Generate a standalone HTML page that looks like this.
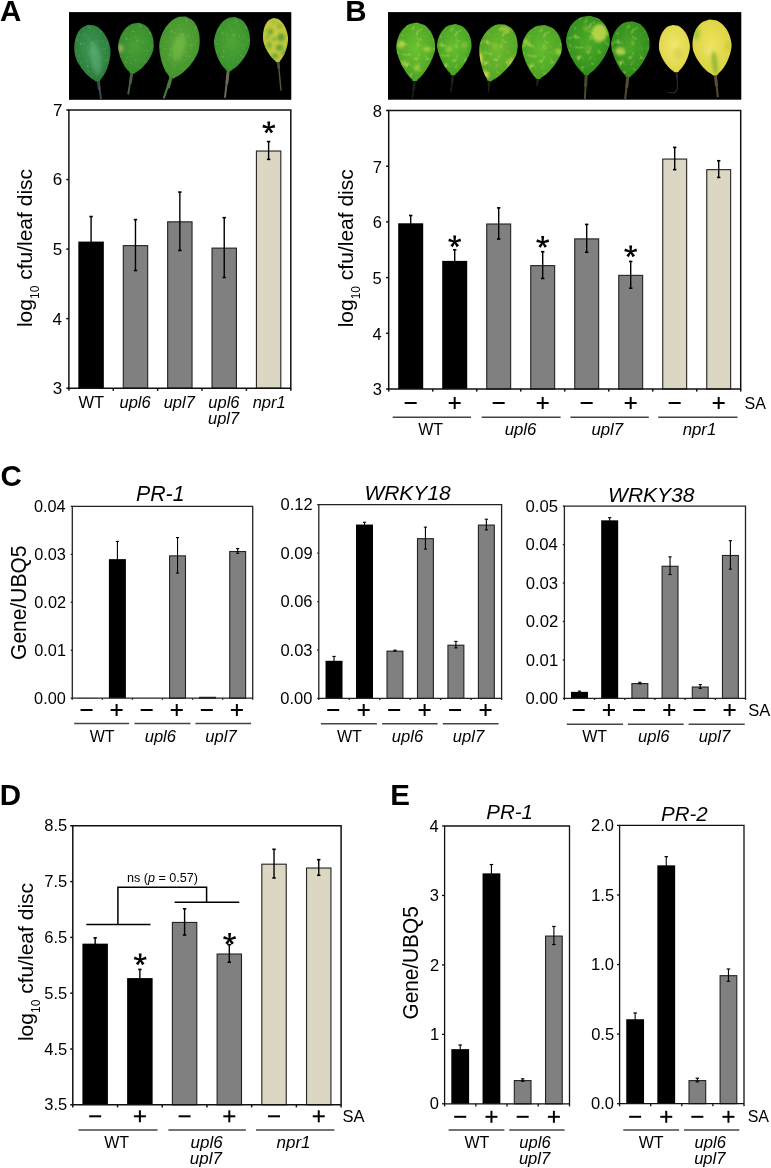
<!DOCTYPE html>
<html><head><meta charset="utf-8"><style>
html,body{margin:0;padding:0;background:#fff;}
svg{display:block;will-change:transform;font-family:"Liberation Sans", sans-serif;}
</style></head><body>
<svg width="771" height="1168" viewBox="0 0 771 1168">
<rect width="771" height="1168" fill="#fff"/>
<defs><radialGradient id="lf1g" cx="0.5" cy="0.45" r="0.6"><stop offset="0" stop-color="#40985a"/><stop offset="1" stop-color="#287a34"/></radialGradient><radialGradient id="lf2g" cx="0.5" cy="0.45" r="0.6"><stop offset="0" stop-color="#4aa236"/><stop offset="1" stop-color="#32882a"/></radialGradient><radialGradient id="lf3g" cx="0.5" cy="0.45" r="0.6"><stop offset="0" stop-color="#5cab3a"/><stop offset="1" stop-color="#40902c"/></radialGradient><radialGradient id="lf4g" cx="0.5" cy="0.45" r="0.6"><stop offset="0" stop-color="#4ea636"/><stop offset="1" stop-color="#368e2c"/></radialGradient><radialGradient id="lf5g" cx="0.5" cy="0.45" r="0.6"><stop offset="0" stop-color="#cfcf42"/><stop offset="1" stop-color="#b8c23a"/></radialGradient><radialGradient id="lf6g" cx="0.5" cy="0.45" r="0.6"><stop offset="0" stop-color="#6cc230"/><stop offset="1" stop-color="#48a024"/></radialGradient><radialGradient id="lf7g" cx="0.5" cy="0.45" r="0.6"><stop offset="0" stop-color="#66be2e"/><stop offset="1" stop-color="#44a024"/></radialGradient><radialGradient id="lf8g" cx="0.5" cy="0.45" r="0.6"><stop offset="0" stop-color="#6cbc2e"/><stop offset="1" stop-color="#50a226"/></radialGradient><radialGradient id="lf9g" cx="0.5" cy="0.45" r="0.6"><stop offset="0" stop-color="#66bc2e"/><stop offset="1" stop-color="#46a024"/></radialGradient><radialGradient id="lf10g" cx="0.5" cy="0.45" r="0.6"><stop offset="0" stop-color="#4cac28"/><stop offset="1" stop-color="#2e8a1c"/></radialGradient><radialGradient id="lf11g" cx="0.5" cy="0.45" r="0.6"><stop offset="0" stop-color="#4aa828"/><stop offset="1" stop-color="#2e881c"/></radialGradient><radialGradient id="lf12g" cx="0.5" cy="0.45" r="0.6"><stop offset="0" stop-color="#f0e86a"/><stop offset="1" stop-color="#dcd444"/></radialGradient><radialGradient id="lf13g" cx="0.5" cy="0.45" r="0.6"><stop offset="0" stop-color="#eee45c"/><stop offset="1" stop-color="#d8d040"/></radialGradient></defs>
<text x="0.07" y="21.3" font-size="29.5" font-style="normal" font-weight="bold" fill="#000">A</text>
<text x="345.33" y="21.3" font-size="29.5" font-style="normal" font-weight="bold" fill="#000">B</text>
<text x="0.59" y="486.2" font-size="29.5" font-style="normal" font-weight="bold" fill="#000">C</text>
<text x="-0.37" y="804.6" font-size="29.5" font-style="normal" font-weight="bold" fill="#000">D</text>
<text x="390.23" y="804.6" font-size="29.5" font-style="normal" font-weight="bold" fill="#000">E</text>
<rect x="69" y="12.1" width="222.3" height="87.7" fill="#000"/>
<rect x="388" y="12.1" width="353.3" height="87.6" fill="#000"/>
<defs><filter id="blur1" x="-50%" y="-50%" width="200%" height="200%"><feGaussianBlur stdDeviation="1.6"/></filter><filter id="speckY" x="0" y="0" width="1" height="1"><feTurbulence type="fractalNoise" baseFrequency="0.2" numOctaves="3" seed="7"/><feColorMatrix type="matrix" values="0 0 0 0 0.76  0 0 0 0 0.80  0 0 0 0 0.14  2.0 0 0 0 -1.12"/></filter><filter id="speckL" x="0" y="0" width="1" height="1"><feTurbulence type="fractalNoise" baseFrequency="0.35" numOctaves="2" seed="3"/><feColorMatrix type="matrix" values="0 0 0 0 0.55  0 0 0 0 0.75  0 0 0 0 0.30  1.3 0 0 0 -0.78"/></filter><filter id="speckG" x="0" y="0" width="1" height="1"><feTurbulence type="fractalNoise" baseFrequency="0.25" numOctaves="2" seed="11"/><feColorMatrix type="matrix" values="0 0 0 0 0.36  0 0 0 0 0.62  0 0 0 0 0.18  4 0 0 0 -1.9"/></filter></defs>
<path d="M97.9 78.2 L101 98.3" fill="none" stroke="#3c4a48" stroke-width="2" stroke-linecap="round" stroke-linejoin="round"/><path d="M97.9 78.2 L99.3 88.9" fill="none" stroke="#3c4a48" stroke-width="3" stroke-linecap="round"/><g transform="translate(87.8 24.8) rotate(-10.15)"><clipPath id="lf1"><path d="M0 0 6.03 1.59 8.41 3.18 10.14 4.77 11.52 6.37 12.66 7.96 13.64 9.55 14.47 11.14 15.18 12.73 15.8 14.32 16.32 15.92 16.77 17.51 17.14 19.1 17.44 20.69 17.67 22.28 17.84 23.87 17.95 25.47 18 27.06 17.91 28.65 17.66 30.24 17.33 31.83 16.92 33.42 16.45 35.01 15.91 36.61 15.32 38.2 14.66 39.79 13.95 41.38 13.17 42.97 12.33 44.56 11.41 46.16 10.41 47.75 9.32 49.34 8.12 50.93 6.77 52.52 5.21 54.11 3.32 55.71 2.2 57.3 L-2.2 57.3 -3.32 55.71 -5.21 54.11 -6.77 52.52 -8.12 50.93 -9.32 49.34 -10.41 47.75 -11.41 46.16 -12.33 44.56 -13.17 42.97 -13.95 41.38 -14.66 39.79 -15.32 38.2 -15.91 36.61 -16.45 35.01 -16.92 33.42 -17.33 31.83 -17.66 30.24 -17.91 28.65 -18 27.06 -17.95 25.47 -17.84 23.87 -17.67 22.28 -17.44 20.69 -17.14 19.1 -16.77 17.51 -16.32 15.92 -15.8 14.32 -15.18 12.73 -14.47 11.14 -13.64 9.55 -12.66 7.96 -11.52 6.37 -10.14 4.77 -8.41 3.18 -6.03 1.59 -0 0Z"/></clipPath><path d="M0 0 6.03 1.59 8.41 3.18 10.14 4.77 11.52 6.37 12.66 7.96 13.64 9.55 14.47 11.14 15.18 12.73 15.8 14.32 16.32 15.92 16.77 17.51 17.14 19.1 17.44 20.69 17.67 22.28 17.84 23.87 17.95 25.47 18 27.06 17.91 28.65 17.66 30.24 17.33 31.83 16.92 33.42 16.45 35.01 15.91 36.61 15.32 38.2 14.66 39.79 13.95 41.38 13.17 42.97 12.33 44.56 11.41 46.16 10.41 47.75 9.32 49.34 8.12 50.93 6.77 52.52 5.21 54.11 3.32 55.71 2.2 57.3 L-2.2 57.3 -3.32 55.71 -5.21 54.11 -6.77 52.52 -8.12 50.93 -9.32 49.34 -10.41 47.75 -11.41 46.16 -12.33 44.56 -13.17 42.97 -13.95 41.38 -14.66 39.79 -15.32 38.2 -15.91 36.61 -16.45 35.01 -16.92 33.42 -17.33 31.83 -17.66 30.24 -17.91 28.65 -18 27.06 -17.95 25.47 -17.84 23.87 -17.67 22.28 -17.44 20.69 -17.14 19.1 -16.77 17.51 -16.32 15.92 -15.8 14.32 -15.18 12.73 -14.47 11.14 -13.64 9.55 -12.66 7.96 -11.52 6.37 -10.14 4.77 -8.41 3.18 -6.03 1.59 -0 0Z" fill="url(#lf1g)"/><g clip-path="url(#lf1)"><rect x="-18" y="0" width="36" height="57.3" fill="#fff" filter="url(#speckL)"/></g><g clip-path="url(#lf1)"><g filter="url(#blur1)"><ellipse cx="1.8" cy="34.38" rx="5" ry="16" fill="#8fd8b0" opacity="0.25"/></g></g></g>
<path d="M132.1 70.4 L128.3 93.6" fill="none" stroke="#4a5a44" stroke-width="2" stroke-linecap="round" stroke-linejoin="round"/><path d="M132.1 70.4 L130.39 82.49" fill="none" stroke="#4a5a44" stroke-width="3" stroke-linecap="round"/><g transform="translate(139.2 22.8) rotate(7.99)"><clipPath id="lf2"><path d="M0 0 5.95 1.42 8.29 2.84 10 4.26 11.36 5.68 12.49 7.1 13.45 8.52 14.27 9.94 14.97 11.35 15.58 12.77 16.1 14.19 16.54 15.61 16.9 17.03 17.2 18.45 17.43 19.87 17.59 21.29 17.7 22.71 17.75 24.13 17.66 25.55 17.42 26.97 17.09 28.39 16.69 29.81 16.22 31.23 15.69 32.64 15.1 34.06 14.46 35.48 13.75 36.9 12.99 38.32 12.15 39.74 11.25 41.16 10.27 42.58 9.19 44 8 45.42 6.67 46.84 5.14 48.26 3.27 49.68 2.2 51.1 L-2.2 51.1 -3.27 49.68 -5.14 48.26 -6.67 46.84 -8 45.42 -9.19 44 -10.27 42.58 -11.25 41.16 -12.15 39.74 -12.99 38.32 -13.75 36.9 -14.46 35.48 -15.1 34.06 -15.69 32.64 -16.22 31.23 -16.69 29.81 -17.09 28.39 -17.42 26.97 -17.66 25.55 -17.75 24.13 -17.7 22.71 -17.59 21.29 -17.43 19.87 -17.2 18.45 -16.9 17.03 -16.54 15.61 -16.1 14.19 -15.58 12.77 -14.97 11.35 -14.27 9.94 -13.45 8.52 -12.49 7.1 -11.36 5.68 -10 4.26 -8.29 2.84 -5.95 1.42 -0 0Z"/></clipPath><path d="M0 0 5.95 1.42 8.29 2.84 10 4.26 11.36 5.68 12.49 7.1 13.45 8.52 14.27 9.94 14.97 11.35 15.58 12.77 16.1 14.19 16.54 15.61 16.9 17.03 17.2 18.45 17.43 19.87 17.59 21.29 17.7 22.71 17.75 24.13 17.66 25.55 17.42 26.97 17.09 28.39 16.69 29.81 16.22 31.23 15.69 32.64 15.1 34.06 14.46 35.48 13.75 36.9 12.99 38.32 12.15 39.74 11.25 41.16 10.27 42.58 9.19 44 8 45.42 6.67 46.84 5.14 48.26 3.27 49.68 2.2 51.1 L-2.2 51.1 -3.27 49.68 -5.14 48.26 -6.67 46.84 -8 45.42 -9.19 44 -10.27 42.58 -11.25 41.16 -12.15 39.74 -12.99 38.32 -13.75 36.9 -14.46 35.48 -15.1 34.06 -15.69 32.64 -16.22 31.23 -16.69 29.81 -17.09 28.39 -17.42 26.97 -17.66 25.55 -17.75 24.13 -17.7 22.71 -17.59 21.29 -17.43 19.87 -17.2 18.45 -16.9 17.03 -16.54 15.61 -16.1 14.19 -15.58 12.77 -14.97 11.35 -14.27 9.94 -13.45 8.52 -12.49 7.1 -11.36 5.68 -10 4.26 -8.29 2.84 -5.95 1.42 -0 0Z" fill="url(#lf2g)"/><g clip-path="url(#lf2)"><rect x="-17.75" y="0" width="35.5" height="51.1" fill="#fff" filter="url(#speckL)"/></g><g clip-path="url(#lf2)"><g filter="url(#blur1)"><ellipse cx="-14.91" cy="28.1" rx="3" ry="4" fill="#c0b070" opacity="0.7"/></g></g></g>
<path d="M171.8 75 L164 97.5" fill="none" stroke="#4a7a3c" stroke-width="2.2" stroke-linecap="round" stroke-linejoin="round"/><path d="M171.8 75 L168.29 86.78" fill="none" stroke="#4a7a3c" stroke-width="3.4" stroke-linecap="round"/><g transform="translate(185.8 16.6) rotate(12.84)"><clipPath id="lf3"><path d="M0 0 6.7 1.75 9.34 3.5 11.26 5.25 12.8 7 14.07 8.75 15.15 10.5 16.08 12.25 16.87 13.99 17.55 15.74 18.14 17.49 18.63 19.24 19.04 20.99 19.38 22.74 19.64 24.49 19.83 26.24 19.95 27.99 20 29.74 19.9 31.49 19.63 33.24 19.25 34.99 18.8 36.74 18.27 38.49 17.68 40.23 17.02 41.98 16.29 43.73 15.5 45.48 14.63 47.23 13.7 48.98 12.68 50.73 11.57 52.48 10.36 54.23 9.02 55.98 7.52 57.73 5.79 59.48 3.68 61.23 2.2 62.98 L-2.2 62.98 -3.68 61.23 -5.79 59.48 -7.52 57.73 -9.02 55.98 -10.36 54.23 -11.57 52.48 -12.68 50.73 -13.7 48.98 -14.63 47.23 -15.5 45.48 -16.29 43.73 -17.02 41.98 -17.68 40.23 -18.27 38.49 -18.8 36.74 -19.25 34.99 -19.63 33.24 -19.9 31.49 -20 29.74 -19.95 27.99 -19.83 26.24 -19.64 24.49 -19.38 22.74 -19.04 20.99 -18.63 19.24 -18.14 17.49 -17.55 15.74 -16.87 13.99 -16.08 12.25 -15.15 10.5 -14.07 8.75 -12.8 7 -11.26 5.25 -9.34 3.5 -6.7 1.75 -0 0Z"/></clipPath><path d="M0 0 6.7 1.75 9.34 3.5 11.26 5.25 12.8 7 14.07 8.75 15.15 10.5 16.08 12.25 16.87 13.99 17.55 15.74 18.14 17.49 18.63 19.24 19.04 20.99 19.38 22.74 19.64 24.49 19.83 26.24 19.95 27.99 20 29.74 19.9 31.49 19.63 33.24 19.25 34.99 18.8 36.74 18.27 38.49 17.68 40.23 17.02 41.98 16.29 43.73 15.5 45.48 14.63 47.23 13.7 48.98 12.68 50.73 11.57 52.48 10.36 54.23 9.02 55.98 7.52 57.73 5.79 59.48 3.68 61.23 2.2 62.98 L-2.2 62.98 -3.68 61.23 -5.79 59.48 -7.52 57.73 -9.02 55.98 -10.36 54.23 -11.57 52.48 -12.68 50.73 -13.7 48.98 -14.63 47.23 -15.5 45.48 -16.29 43.73 -17.02 41.98 -17.68 40.23 -18.27 38.49 -18.8 36.74 -19.25 34.99 -19.63 33.24 -19.9 31.49 -20 29.74 -19.95 27.99 -19.83 26.24 -19.64 24.49 -19.38 22.74 -19.04 20.99 -18.63 19.24 -18.14 17.49 -17.55 15.74 -16.87 13.99 -16.08 12.25 -15.15 10.5 -14.07 8.75 -12.8 7 -11.26 5.25 -9.34 3.5 -6.7 1.75 -0 0Z" fill="url(#lf3g)"/><g clip-path="url(#lf3)"><rect x="-20" y="0" width="40" height="62.98" fill="#fff" filter="url(#speckL)"/></g><g clip-path="url(#lf3)"><g filter="url(#blur1)"><ellipse cx="0" cy="31.49" rx="6" ry="14" fill="#90cc50" opacity="0.35"/></g></g></g>
<path d="M228.5 68 L225 97" fill="none" stroke="#6a6a52" stroke-width="2" stroke-linecap="round" stroke-linejoin="round"/><path d="M228.5 68 L226.93 82.7" fill="none" stroke="#6a6a52" stroke-width="3" stroke-linecap="round"/><g transform="translate(235 17) rotate(6.86)"><clipPath id="lf4"><path d="M0 0 6.03 1.51 8.41 3.02 10.14 4.53 11.52 6.04 12.66 7.55 13.64 9.06 14.47 10.58 15.18 12.09 15.8 13.6 16.32 15.11 16.77 16.62 17.14 18.13 17.44 19.64 17.67 21.15 17.84 22.66 17.95 24.17 18 25.68 17.91 27.19 17.66 28.71 17.33 30.22 16.92 31.73 16.45 33.24 15.91 34.75 15.32 36.26 14.66 37.77 13.95 39.28 13.17 40.79 12.33 42.3 11.41 43.81 10.41 45.32 9.32 46.84 8.12 48.35 6.77 49.86 5.21 51.37 3.32 52.88 2.2 54.39 L-2.2 54.39 -3.32 52.88 -5.21 51.37 -6.77 49.86 -8.12 48.35 -9.32 46.84 -10.41 45.32 -11.41 43.81 -12.33 42.3 -13.17 40.79 -13.95 39.28 -14.66 37.77 -15.32 36.26 -15.91 34.75 -16.45 33.24 -16.92 31.73 -17.33 30.22 -17.66 28.71 -17.91 27.19 -18 25.68 -17.95 24.17 -17.84 22.66 -17.67 21.15 -17.44 19.64 -17.14 18.13 -16.77 16.62 -16.32 15.11 -15.8 13.6 -15.18 12.09 -14.47 10.58 -13.64 9.06 -12.66 7.55 -11.52 6.04 -10.14 4.53 -8.41 3.02 -6.03 1.51 -0 0Z"/></clipPath><path d="M0 0 6.03 1.51 8.41 3.02 10.14 4.53 11.52 6.04 12.66 7.55 13.64 9.06 14.47 10.58 15.18 12.09 15.8 13.6 16.32 15.11 16.77 16.62 17.14 18.13 17.44 19.64 17.67 21.15 17.84 22.66 17.95 24.17 18 25.68 17.91 27.19 17.66 28.71 17.33 30.22 16.92 31.73 16.45 33.24 15.91 34.75 15.32 36.26 14.66 37.77 13.95 39.28 13.17 40.79 12.33 42.3 11.41 43.81 10.41 45.32 9.32 46.84 8.12 48.35 6.77 49.86 5.21 51.37 3.32 52.88 2.2 54.39 L-2.2 54.39 -3.32 52.88 -5.21 51.37 -6.77 49.86 -8.12 48.35 -9.32 46.84 -10.41 45.32 -11.41 43.81 -12.33 42.3 -13.17 40.79 -13.95 39.28 -14.66 37.77 -15.32 36.26 -15.91 34.75 -16.45 33.24 -16.92 31.73 -17.33 30.22 -17.66 28.71 -17.91 27.19 -18 25.68 -17.95 24.17 -17.84 22.66 -17.67 21.15 -17.44 19.64 -17.14 18.13 -16.77 16.62 -16.32 15.11 -15.8 13.6 -15.18 12.09 -14.47 10.58 -13.64 9.06 -12.66 7.55 -11.52 6.04 -10.14 4.53 -8.41 3.02 -6.03 1.51 -0 0Z" fill="url(#lf4g)"/><g clip-path="url(#lf4)"><rect x="-18" y="0" width="36" height="54.39" fill="#fff" filter="url(#speckL)"/></g></g>
<path d="M278 59 L279.5 75 L281 90" fill="none" stroke="#4a5a38" stroke-width="1.5" stroke-linecap="round" stroke-linejoin="round"/><path d="M278 59 L278.68 67.85" fill="none" stroke="#4a5a38" stroke-width="2.4" stroke-linecap="round"/><g transform="translate(273.4 18) rotate(-5.97)"><clipPath id="lf5"><path d="M0 0 4.19 1.23 5.84 2.46 7.04 3.69 8 4.92 8.79 6.14 9.47 7.37 10.05 8.6 10.54 9.83 10.97 11.06 11.34 12.29 11.65 13.52 11.9 14.75 12.11 15.98 12.27 17.2 12.39 18.43 12.47 19.66 12.5 20.89 12.44 22.12 12.27 23.35 12.03 24.58 11.75 25.81 11.42 27.04 11.05 28.26 10.64 29.49 10.18 30.72 9.69 31.95 9.15 33.18 8.56 34.41 7.92 35.64 7.23 36.87 6.47 38.1 5.64 39.32 4.7 40.55 3.62 41.78 2.3 43.01 2.2 44.24 L-2.2 44.24 -2.3 43.01 -3.62 41.78 -4.7 40.55 -5.64 39.32 -6.47 38.1 -7.23 36.87 -7.92 35.64 -8.56 34.41 -9.15 33.18 -9.69 31.95 -10.18 30.72 -10.64 29.49 -11.05 28.26 -11.42 27.04 -11.75 25.81 -12.03 24.58 -12.27 23.35 -12.44 22.12 -12.5 20.89 -12.47 19.66 -12.39 18.43 -12.27 17.2 -12.11 15.98 -11.9 14.75 -11.65 13.52 -11.34 12.29 -10.97 11.06 -10.54 9.83 -10.05 8.6 -9.47 7.37 -8.79 6.14 -8 4.92 -7.04 3.69 -5.84 2.46 -4.19 1.23 -0 0Z"/></clipPath><path d="M0 0 4.19 1.23 5.84 2.46 7.04 3.69 8 4.92 8.79 6.14 9.47 7.37 10.05 8.6 10.54 9.83 10.97 11.06 11.34 12.29 11.65 13.52 11.9 14.75 12.11 15.98 12.27 17.2 12.39 18.43 12.47 19.66 12.5 20.89 12.44 22.12 12.27 23.35 12.03 24.58 11.75 25.81 11.42 27.04 11.05 28.26 10.64 29.49 10.18 30.72 9.69 31.95 9.15 33.18 8.56 34.41 7.92 35.64 7.23 36.87 6.47 38.1 5.64 39.32 4.7 40.55 3.62 41.78 2.3 43.01 2.2 44.24 L-2.2 44.24 -2.3 43.01 -3.62 41.78 -4.7 40.55 -5.64 39.32 -6.47 38.1 -7.23 36.87 -7.92 35.64 -8.56 34.41 -9.15 33.18 -9.69 31.95 -10.18 30.72 -10.64 29.49 -11.05 28.26 -11.42 27.04 -11.75 25.81 -12.03 24.58 -12.27 23.35 -12.44 22.12 -12.5 20.89 -12.47 19.66 -12.39 18.43 -12.27 17.2 -12.11 15.98 -11.9 14.75 -11.65 13.52 -11.34 12.29 -10.97 11.06 -10.54 9.83 -10.05 8.6 -9.47 7.37 -8.79 6.14 -8 4.92 -7.04 3.69 -5.84 2.46 -4.19 1.23 -0 0Z" fill="url(#lf5g)"/><g clip-path="url(#lf5)"><g filter="url(#blur1)"><ellipse cx="5.5" cy="19.91" rx="3.5" ry="4" fill="#5a9e30" opacity="0.95"/><ellipse cx="-4.5" cy="13.27" rx="3" ry="3" fill="#62a432" opacity="0.9"/><ellipse cx="3" cy="30.08" rx="3.5" ry="3" fill="#5a9e30" opacity="0.95"/><ellipse cx="-7" cy="26.54" rx="2.5" ry="3.5" fill="#6aa832" opacity="0.85"/><ellipse cx="5" cy="8.85" rx="2.5" ry="2.5" fill="#78b036" opacity="0.8"/><ellipse cx="-1.25" cy="21.24" rx="2" ry="2" fill="#5aa030" opacity="0.8"/><ellipse cx="7.5" cy="36.28" rx="3" ry="3" fill="#6aa832" opacity="0.8"/><ellipse cx="-2.5" cy="38.05" rx="3" ry="2.5" fill="#5a9e30" opacity="0.85"/><ellipse cx="-7.5" cy="18.58" rx="2" ry="2" fill="#6aa832" opacity="0.7"/><ellipse cx="0" cy="4.42" rx="2.5" ry="2" fill="#8ab83a" opacity="0.6"/></g></g></g>
<path d="M414.8 78 L412.5 98" fill="none" stroke="#1c2218" stroke-width="1.5" stroke-linecap="round" stroke-linejoin="round"/><path d="M414.8 78 L413.76 88.65" fill="none" stroke="#1c2218" stroke-width="2.6" stroke-linecap="round"/><g transform="translate(416.4 22.6) rotate(1.57)"><clipPath id="lf6"><path d="M0 0 6.82 1.62 9.48 3.25 11.42 4.87 12.95 6.49 14.22 8.11 15.28 9.74 16.18 11.36 16.94 12.98 17.59 14.61 18.13 16.23 18.57 17.85 18.92 19.47 19.18 21.1 19.37 22.72 19.47 24.34 19.48 25.97 19.24 27.59 18.89 29.21 18.45 30.83 17.95 32.46 17.39 34.08 16.77 35.7 16.11 37.33 15.39 38.95 14.63 40.57 13.81 42.19 12.94 43.82 12.01 45.44 11.02 47.06 9.96 48.68 8.81 50.31 7.58 51.93 6.22 53.55 4.69 55.18 2.88 56.8 2.2 58.42 L-2.2 58.42 -2.88 56.8 -4.69 55.18 -6.22 53.55 -7.58 51.93 -8.81 50.31 -9.96 48.68 -11.02 47.06 -12.01 45.44 -12.94 43.82 -13.81 42.19 -14.63 40.57 -15.39 38.95 -16.11 37.33 -16.77 35.7 -17.39 34.08 -17.95 32.46 -18.45 30.83 -18.89 29.21 -19.24 27.59 -19.48 25.97 -19.47 24.34 -19.37 22.72 -19.18 21.1 -18.92 19.47 -18.57 17.85 -18.13 16.23 -17.59 14.61 -16.94 12.98 -16.18 11.36 -15.28 9.74 -14.22 8.11 -12.95 6.49 -11.42 4.87 -9.48 3.25 -6.82 1.62 -0 0Z"/></clipPath><path d="M0 0 6.82 1.62 9.48 3.25 11.42 4.87 12.95 6.49 14.22 8.11 15.28 9.74 16.18 11.36 16.94 12.98 17.59 14.61 18.13 16.23 18.57 17.85 18.92 19.47 19.18 21.1 19.37 22.72 19.47 24.34 19.48 25.97 19.24 27.59 18.89 29.21 18.45 30.83 17.95 32.46 17.39 34.08 16.77 35.7 16.11 37.33 15.39 38.95 14.63 40.57 13.81 42.19 12.94 43.82 12.01 45.44 11.02 47.06 9.96 48.68 8.81 50.31 7.58 51.93 6.22 53.55 4.69 55.18 2.88 56.8 2.2 58.42 L-2.2 58.42 -2.88 56.8 -4.69 55.18 -6.22 53.55 -7.58 51.93 -8.81 50.31 -9.96 48.68 -11.02 47.06 -12.01 45.44 -12.94 43.82 -13.81 42.19 -14.63 40.57 -15.39 38.95 -16.11 37.33 -16.77 35.7 -17.39 34.08 -17.95 32.46 -18.45 30.83 -18.89 29.21 -19.24 27.59 -19.48 25.97 -19.47 24.34 -19.37 22.72 -19.18 21.1 -18.92 19.47 -18.57 17.85 -18.13 16.23 -17.59 14.61 -16.94 12.98 -16.18 11.36 -15.28 9.74 -14.22 8.11 -12.95 6.49 -11.42 4.87 -9.48 3.25 -6.82 1.62 -0 0Z" fill="url(#lf6g)"/><g clip-path="url(#lf6)"><rect x="-19.5" y="0" width="39" height="58.42" fill="#fff" filter="url(#speckY)"/></g><g clip-path="url(#lf6)"><g filter="url(#blur1)"><ellipse cx="-14.82" cy="22.2" rx="3" ry="4" fill="#c8dc48" opacity="0.8"/><ellipse cx="11.7" cy="26.29" rx="4" ry="2.5" fill="#c0d848" opacity="0.7"/><ellipse cx="1.95" cy="45.57" rx="3" ry="3" fill="#c8d848" opacity="0.7"/><ellipse cx="-11.7" cy="40.9" rx="3" ry="3" fill="#c0d848" opacity="0.6"/></g></g></g>
<path d="M453 72.1 L451 91.7" fill="none" stroke="#1c2218" stroke-width="1.5" stroke-linecap="round" stroke-linejoin="round"/><path d="M453 72.1 L452.1 82.57" fill="none" stroke="#1c2218" stroke-width="2.6" stroke-linecap="round"/><g transform="translate(455.3 24) rotate(2.58)"><clipPath id="lf7"><path d="M0 0 6.03 1.42 8.39 2.84 10.1 4.26 11.46 5.68 12.58 7.1 13.52 8.53 14.31 9.95 14.99 11.37 15.56 12.79 16.03 14.21 16.43 15.63 16.74 17.05 16.97 18.47 17.13 19.89 17.23 21.31 17.24 22.73 17.02 24.15 16.71 25.58 16.32 27 15.88 28.42 15.38 29.84 14.84 31.26 14.25 32.68 13.62 34.1 12.94 35.52 12.22 36.94 11.44 38.36 10.62 39.78 9.75 41.21 8.81 42.63 7.8 44.05 6.7 45.47 5.5 46.89 4.15 48.31 2.55 49.73 2.2 51.15 L-2.2 51.15 -2.55 49.73 -4.15 48.31 -5.5 46.89 -6.7 45.47 -7.8 44.05 -8.81 42.63 -9.75 41.21 -10.62 39.78 -11.44 38.36 -12.22 36.94 -12.94 35.52 -13.62 34.1 -14.25 32.68 -14.84 31.26 -15.38 29.84 -15.88 28.42 -16.32 27 -16.71 25.58 -17.02 24.15 -17.24 22.73 -17.23 21.31 -17.13 19.89 -16.97 18.47 -16.74 17.05 -16.43 15.63 -16.03 14.21 -15.56 12.79 -14.99 11.37 -14.31 9.95 -13.52 8.53 -12.58 7.1 -11.46 5.68 -10.1 4.26 -8.39 2.84 -6.03 1.42 -0 0Z"/></clipPath><path d="M0 0 6.03 1.42 8.39 2.84 10.1 4.26 11.46 5.68 12.58 7.1 13.52 8.53 14.31 9.95 14.99 11.37 15.56 12.79 16.03 14.21 16.43 15.63 16.74 17.05 16.97 18.47 17.13 19.89 17.23 21.31 17.24 22.73 17.02 24.15 16.71 25.58 16.32 27 15.88 28.42 15.38 29.84 14.84 31.26 14.25 32.68 13.62 34.1 12.94 35.52 12.22 36.94 11.44 38.36 10.62 39.78 9.75 41.21 8.81 42.63 7.8 44.05 6.7 45.47 5.5 46.89 4.15 48.31 2.55 49.73 2.2 51.15 L-2.2 51.15 -2.55 49.73 -4.15 48.31 -5.5 46.89 -6.7 45.47 -7.8 44.05 -8.81 42.63 -9.75 41.21 -10.62 39.78 -11.44 38.36 -12.22 36.94 -12.94 35.52 -13.62 34.1 -14.25 32.68 -14.84 31.26 -15.38 29.84 -15.88 28.42 -16.32 27 -16.71 25.58 -17.02 24.15 -17.24 22.73 -17.23 21.31 -17.13 19.89 -16.97 18.47 -16.74 17.05 -16.43 15.63 -16.03 14.21 -15.56 12.79 -14.99 11.37 -14.31 9.95 -13.52 8.53 -12.58 7.1 -11.46 5.68 -10.1 4.26 -8.39 2.84 -6.03 1.42 -0 0Z" fill="url(#lf7g)"/><g clip-path="url(#lf7)"><rect x="-17.25" y="0" width="34.5" height="51.15" fill="#fff" filter="url(#speckY)"/></g><g clip-path="url(#lf7)"><g filter="url(#blur1)"><ellipse cx="-5.17" cy="25.58" rx="3" ry="3" fill="#b8d448" opacity="0.6"/><ellipse cx="10.35" cy="20.46" rx="3" ry="3" fill="#b8d448" opacity="0.5"/></g></g></g>
<path d="M489.3 78 L488.4 91.7" fill="none" stroke="#1c2218" stroke-width="1.5" stroke-linecap="round" stroke-linejoin="round"/><path d="M489.3 78 L488.89 85.81" fill="none" stroke="#1c2218" stroke-width="2.6" stroke-linecap="round"/><g transform="translate(504.9 24.5) rotate(15.44)"><clipPath id="lf8"><path d="M0 0 6.64 1.63 9.24 3.26 11.13 4.88 12.62 6.51 13.85 8.14 14.89 9.77 15.77 11.4 16.51 13.03 17.14 14.65 17.66 16.28 18.09 17.91 18.43 19.54 18.69 21.17 18.87 22.79 18.97 24.42 18.98 26.05 18.75 27.68 18.4 29.31 17.98 30.94 17.49 32.56 16.94 34.19 16.34 35.82 15.69 37.45 15 39.08 14.25 40.7 13.46 42.33 12.61 43.96 11.7 45.59 10.73 47.22 9.7 48.85 8.59 50.47 7.38 52.1 6.06 53.73 4.57 55.36 2.81 56.99 2.2 58.61 L-2.2 58.61 -2.81 56.99 -4.57 55.36 -6.06 53.73 -7.38 52.1 -8.59 50.47 -9.7 48.85 -10.73 47.22 -11.7 45.59 -12.61 43.96 -13.46 42.33 -14.25 40.7 -15 39.08 -15.69 37.45 -16.34 35.82 -16.94 34.19 -17.49 32.56 -17.98 30.94 -18.4 29.31 -18.75 27.68 -18.98 26.05 -18.97 24.42 -18.87 22.79 -18.69 21.17 -18.43 19.54 -18.09 17.91 -17.66 16.28 -17.14 14.65 -16.51 13.03 -15.77 11.4 -14.89 9.77 -13.85 8.14 -12.62 6.51 -11.13 4.88 -9.24 3.26 -6.64 1.63 -0 0Z"/></clipPath><path d="M0 0 6.64 1.63 9.24 3.26 11.13 4.88 12.62 6.51 13.85 8.14 14.89 9.77 15.77 11.4 16.51 13.03 17.14 14.65 17.66 16.28 18.09 17.91 18.43 19.54 18.69 21.17 18.87 22.79 18.97 24.42 18.98 26.05 18.75 27.68 18.4 29.31 17.98 30.94 17.49 32.56 16.94 34.19 16.34 35.82 15.69 37.45 15 39.08 14.25 40.7 13.46 42.33 12.61 43.96 11.7 45.59 10.73 47.22 9.7 48.85 8.59 50.47 7.38 52.1 6.06 53.73 4.57 55.36 2.81 56.99 2.2 58.61 L-2.2 58.61 -2.81 56.99 -4.57 55.36 -6.06 53.73 -7.38 52.1 -8.59 50.47 -9.7 48.85 -10.73 47.22 -11.7 45.59 -12.61 43.96 -13.46 42.33 -14.25 40.7 -15 39.08 -15.69 37.45 -16.34 35.82 -16.94 34.19 -17.49 32.56 -17.98 30.94 -18.4 29.31 -18.75 27.68 -18.98 26.05 -18.97 24.42 -18.87 22.79 -18.69 21.17 -18.43 19.54 -18.09 17.91 -17.66 16.28 -17.14 14.65 -16.51 13.03 -15.77 11.4 -14.89 9.77 -13.85 8.14 -12.62 6.51 -11.13 4.88 -9.24 3.26 -6.64 1.63 -0 0Z" fill="url(#lf8g)"/><g clip-path="url(#lf8)"><rect x="-19" y="0" width="38" height="58.61" fill="#fff" filter="url(#speckY)"/></g><g clip-path="url(#lf8)"><g filter="url(#blur1)"><ellipse cx="-17.1" cy="42.2" rx="5" ry="9" fill="#e0dc50" opacity="0.95"/><ellipse cx="-7.6" cy="53.92" rx="6" ry="4" fill="#d8d848" opacity="0.9"/><ellipse cx="15.96" cy="35.17" rx="3" ry="6" fill="#c8d448" opacity="0.7"/><ellipse cx="1.9" cy="4.69" rx="5" ry="3" fill="#c8d448" opacity="0.6"/><ellipse cx="-3.8" cy="23.45" rx="3" ry="3" fill="#a8cc40" opacity="0.5"/></g></g></g>
<path d="M538 76 L537 85.8" fill="none" stroke="#1c2218" stroke-width="1.5" stroke-linecap="round" stroke-linejoin="round"/><path d="M538 76 L537.55 82.06" fill="none" stroke="#1c2218" stroke-width="2.6" stroke-linecap="round"/><g transform="translate(544.8 25.1) rotate(7.19)"><clipPath id="lf9"><path d="M0 0 6.99 1.51 9.73 3.02 11.71 4.53 13.29 6.04 14.58 7.55 15.67 9.05 16.6 10.56 17.38 12.07 18.04 13.58 18.59 15.09 19.04 16.6 19.4 18.11 19.68 19.62 19.86 21.13 19.97 22.64 19.98 24.15 19.74 25.65 19.37 27.16 18.92 28.67 18.41 30.18 17.83 31.69 17.2 33.2 16.52 34.71 15.79 36.22 15 37.73 14.16 39.24 13.27 40.75 12.32 42.25 11.3 43.76 10.21 45.27 9.04 46.78 7.77 48.29 6.38 49.8 4.81 51.31 2.95 52.82 2.2 54.33 L-2.2 54.33 -2.95 52.82 -4.81 51.31 -6.38 49.8 -7.77 48.29 -9.04 46.78 -10.21 45.27 -11.3 43.76 -12.32 42.25 -13.27 40.75 -14.16 39.24 -15 37.73 -15.79 36.22 -16.52 34.71 -17.2 33.2 -17.83 31.69 -18.41 30.18 -18.92 28.67 -19.37 27.16 -19.74 25.65 -19.98 24.15 -19.97 22.64 -19.86 21.13 -19.68 19.62 -19.4 18.11 -19.04 16.6 -18.59 15.09 -18.04 13.58 -17.38 12.07 -16.6 10.56 -15.67 9.05 -14.58 7.55 -13.29 6.04 -11.71 4.53 -9.73 3.02 -6.99 1.51 -0 0Z"/></clipPath><path d="M0 0 6.99 1.51 9.73 3.02 11.71 4.53 13.29 6.04 14.58 7.55 15.67 9.05 16.6 10.56 17.38 12.07 18.04 13.58 18.59 15.09 19.04 16.6 19.4 18.11 19.68 19.62 19.86 21.13 19.97 22.64 19.98 24.15 19.74 25.65 19.37 27.16 18.92 28.67 18.41 30.18 17.83 31.69 17.2 33.2 16.52 34.71 15.79 36.22 15 37.73 14.16 39.24 13.27 40.75 12.32 42.25 11.3 43.76 10.21 45.27 9.04 46.78 7.77 48.29 6.38 49.8 4.81 51.31 2.95 52.82 2.2 54.33 L-2.2 54.33 -2.95 52.82 -4.81 51.31 -6.38 49.8 -7.77 48.29 -9.04 46.78 -10.21 45.27 -11.3 43.76 -12.32 42.25 -13.27 40.75 -14.16 39.24 -15 37.73 -15.79 36.22 -16.52 34.71 -17.2 33.2 -17.83 31.69 -18.41 30.18 -18.92 28.67 -19.37 27.16 -19.74 25.65 -19.98 24.15 -19.97 22.64 -19.86 21.13 -19.68 19.62 -19.4 18.11 -19.04 16.6 -18.59 15.09 -18.04 13.58 -17.38 12.07 -16.6 10.56 -15.67 9.05 -14.58 7.55 -13.29 6.04 -11.71 4.53 -9.73 3.02 -6.99 1.51 -0 0Z" fill="url(#lf9g)"/><g clip-path="url(#lf9)"><rect x="-20" y="0" width="40" height="54.33" fill="#fff" filter="url(#speckY)"/></g><g clip-path="url(#lf9)"><g filter="url(#blur1)"><ellipse cx="-16.8" cy="19.01" rx="3" ry="3" fill="#c0d848" opacity="0.7"/><ellipse cx="16.8" cy="24.45" rx="3" ry="3" fill="#c0d848" opacity="0.7"/></g></g></g>
<path d="M586.3 72.1 L584.9 98.5" fill="none" stroke="#4a4a30" stroke-width="2" stroke-linecap="round" stroke-linejoin="round"/><path d="M586.3 72.1 L585.67 85.63" fill="none" stroke="#4a4a30" stroke-width="3" stroke-linecap="round"/><g transform="translate(589.2 15.8) rotate(2.8)"><clipPath id="lf10"><path d="M0 0 7.69 1.65 10.7 3.3 12.88 4.95 14.61 6.6 16.04 8.25 17.24 9.9 18.26 11.54 19.12 13.19 19.84 14.84 20.45 16.49 20.95 18.14 21.34 19.79 21.64 21.44 21.85 23.09 21.97 24.74 21.98 26.39 21.71 28.04 21.31 29.69 20.81 31.33 20.25 32.98 19.62 34.63 18.92 36.28 18.17 37.93 17.37 39.58 16.5 41.23 15.58 42.88 14.6 44.53 13.55 46.18 12.43 47.83 11.23 49.48 9.95 51.12 8.55 52.77 7.02 54.42 5.29 56.07 3.25 57.72 2.2 59.37 L-2.2 59.37 -3.25 57.72 -5.29 56.07 -7.02 54.42 -8.55 52.77 -9.95 51.12 -11.23 49.48 -12.43 47.83 -13.55 46.18 -14.6 44.53 -15.58 42.88 -16.5 41.23 -17.37 39.58 -18.17 37.93 -18.92 36.28 -19.62 34.63 -20.25 32.98 -20.81 31.33 -21.31 29.69 -21.71 28.04 -21.98 26.39 -21.97 24.74 -21.85 23.09 -21.64 21.44 -21.34 19.79 -20.95 18.14 -20.45 16.49 -19.84 14.84 -19.12 13.19 -18.26 11.54 -17.24 9.9 -16.04 8.25 -14.61 6.6 -12.88 4.95 -10.7 3.3 -7.69 1.65 -0 0Z"/></clipPath><path d="M0 0 7.69 1.65 10.7 3.3 12.88 4.95 14.61 6.6 16.04 8.25 17.24 9.9 18.26 11.54 19.12 13.19 19.84 14.84 20.45 16.49 20.95 18.14 21.34 19.79 21.64 21.44 21.85 23.09 21.97 24.74 21.98 26.39 21.71 28.04 21.31 29.69 20.81 31.33 20.25 32.98 19.62 34.63 18.92 36.28 18.17 37.93 17.37 39.58 16.5 41.23 15.58 42.88 14.6 44.53 13.55 46.18 12.43 47.83 11.23 49.48 9.95 51.12 8.55 52.77 7.02 54.42 5.29 56.07 3.25 57.72 2.2 59.37 L-2.2 59.37 -3.25 57.72 -5.29 56.07 -7.02 54.42 -8.55 52.77 -9.95 51.12 -11.23 49.48 -12.43 47.83 -13.55 46.18 -14.6 44.53 -15.58 42.88 -16.5 41.23 -17.37 39.58 -18.17 37.93 -18.92 36.28 -19.62 34.63 -20.25 32.98 -20.81 31.33 -21.31 29.69 -21.71 28.04 -21.98 26.39 -21.97 24.74 -21.85 23.09 -21.64 21.44 -21.34 19.79 -20.95 18.14 -20.45 16.49 -19.84 14.84 -19.12 13.19 -18.26 11.54 -17.24 9.9 -16.04 8.25 -14.61 6.6 -12.88 4.95 -10.7 3.3 -7.69 1.65 -0 0Z" fill="url(#lf10g)"/><g clip-path="url(#lf10)"><rect x="-22" y="0" width="44" height="59.37" fill="#fff" filter="url(#speckY)"/></g><g clip-path="url(#lf10)"><g filter="url(#blur1)"><ellipse cx="11" cy="16.62" rx="8" ry="9" fill="#c8dc50" opacity="0.85"/><ellipse cx="-2.2" cy="13.06" rx="3" ry="3" fill="#a8cc40" opacity="0.5"/><ellipse cx="0" cy="32.65" rx="3" ry="3" fill="#90c040" opacity="0.4"/></g></g></g>
<path d="M628.1 74 L625.2 98.5" fill="none" stroke="#5a4a30" stroke-width="2" stroke-linecap="round" stroke-linejoin="round"/><path d="M628.1 74 L626.8 86.68" fill="none" stroke="#5a4a30" stroke-width="3" stroke-linecap="round"/><g transform="translate(632 21.2) rotate(4)"><clipPath id="lf11"><path d="M0 0 6.73 1.55 9.36 3.11 11.27 4.66 12.79 6.22 14.04 7.77 15.09 9.32 15.97 10.88 16.73 12.43 17.36 13.98 17.89 15.54 18.33 17.09 18.68 18.65 18.94 20.2 19.12 21.75 19.22 23.31 19.23 24.86 19 26.41 18.64 27.97 18.21 29.52 17.72 31.08 17.16 32.63 16.56 34.18 15.9 35.74 15.2 37.29 14.44 38.84 13.63 40.4 12.77 41.95 11.85 43.51 10.88 45.06 9.83 46.61 8.7 48.17 7.48 49.72 6.14 51.27 4.63 52.83 2.84 54.38 2.2 55.94 L-2.2 55.94 -2.84 54.38 -4.63 52.83 -6.14 51.27 -7.48 49.72 -8.7 48.17 -9.83 46.61 -10.88 45.06 -11.85 43.51 -12.77 41.95 -13.63 40.4 -14.44 38.84 -15.2 37.29 -15.9 35.74 -16.56 34.18 -17.16 32.63 -17.72 31.08 -18.21 29.52 -18.64 27.97 -19 26.41 -19.23 24.86 -19.22 23.31 -19.12 21.75 -18.94 20.2 -18.68 18.65 -18.33 17.09 -17.89 15.54 -17.36 13.98 -16.73 12.43 -15.97 10.88 -15.09 9.32 -14.04 7.77 -12.79 6.22 -11.27 4.66 -9.36 3.11 -6.73 1.55 -0 0Z"/></clipPath><path d="M0 0 6.73 1.55 9.36 3.11 11.27 4.66 12.79 6.22 14.04 7.77 15.09 9.32 15.97 10.88 16.73 12.43 17.36 13.98 17.89 15.54 18.33 17.09 18.68 18.65 18.94 20.2 19.12 21.75 19.22 23.31 19.23 24.86 19 26.41 18.64 27.97 18.21 29.52 17.72 31.08 17.16 32.63 16.56 34.18 15.9 35.74 15.2 37.29 14.44 38.84 13.63 40.4 12.77 41.95 11.85 43.51 10.88 45.06 9.83 46.61 8.7 48.17 7.48 49.72 6.14 51.27 4.63 52.83 2.84 54.38 2.2 55.94 L-2.2 55.94 -2.84 54.38 -4.63 52.83 -6.14 51.27 -7.48 49.72 -8.7 48.17 -9.83 46.61 -10.88 45.06 -11.85 43.51 -12.77 41.95 -13.63 40.4 -14.44 38.84 -15.2 37.29 -15.9 35.74 -16.56 34.18 -17.16 32.63 -17.72 31.08 -18.21 29.52 -18.64 27.97 -19 26.41 -19.23 24.86 -19.22 23.31 -19.12 21.75 -18.94 20.2 -18.68 18.65 -18.33 17.09 -17.89 15.54 -17.36 13.98 -16.73 12.43 -15.97 10.88 -15.09 9.32 -14.04 7.77 -12.79 6.22 -11.27 4.66 -9.36 3.11 -6.73 1.55 -0 0Z" fill="url(#lf11g)"/><g clip-path="url(#lf11)"><rect x="-19.25" y="0" width="38.5" height="55.94" fill="#fff" filter="url(#speckY)"/></g><g clip-path="url(#lf11)"><g filter="url(#blur1)"><ellipse cx="-9.62" cy="30.76" rx="5" ry="4" fill="#c0d850" opacity="0.85"/></g></g></g>
<path d="M676.3 69.2 L677.5 84 L677 90 L674 93 L668 92.5" fill="none" stroke="#2a3024" stroke-width="1.1" stroke-linecap="round" stroke-linejoin="round"/><path d="M676.3 69.2 L676.84 77.51" fill="none" stroke="#2a3024" stroke-width="1.6" stroke-linecap="round"/><g transform="translate(672.8 24.9) rotate(-4.23)"><clipPath id="lf12"><path d="M0 0 5.2 1.32 7.24 2.63 8.73 3.95 9.92 5.27 10.9 6.59 11.74 7.9 12.46 9.22 13.08 10.54 13.6 11.86 14.06 13.17 14.44 14.49 14.76 15.81 15.02 17.13 15.22 18.44 15.36 19.76 15.46 21.08 15.5 22.4 15.42 23.71 15.21 25.03 14.92 26.35 14.57 27.67 14.16 28.98 13.7 30.3 13.19 31.62 12.63 32.94 12.01 34.25 11.34 35.57 10.61 36.89 9.82 38.21 8.97 39.52 8.03 40.84 6.99 42.16 5.83 43.48 4.49 44.79 2.85 46.11 2.2 47.43 L-2.2 47.43 -2.85 46.11 -4.49 44.79 -5.83 43.48 -6.99 42.16 -8.03 40.84 -8.97 39.52 -9.82 38.21 -10.61 36.89 -11.34 35.57 -12.01 34.25 -12.63 32.94 -13.19 31.62 -13.7 30.3 -14.16 28.98 -14.57 27.67 -14.92 26.35 -15.21 25.03 -15.42 23.71 -15.5 22.4 -15.46 21.08 -15.36 19.76 -15.22 18.44 -15.02 17.13 -14.76 15.81 -14.44 14.49 -14.06 13.17 -13.6 11.86 -13.08 10.54 -12.46 9.22 -11.74 7.9 -10.9 6.59 -9.92 5.27 -8.73 3.95 -7.24 2.63 -5.2 1.32 -0 0Z"/></clipPath><path d="M0 0 5.2 1.32 7.24 2.63 8.73 3.95 9.92 5.27 10.9 6.59 11.74 7.9 12.46 9.22 13.08 10.54 13.6 11.86 14.06 13.17 14.44 14.49 14.76 15.81 15.02 17.13 15.22 18.44 15.36 19.76 15.46 21.08 15.5 22.4 15.42 23.71 15.21 25.03 14.92 26.35 14.57 27.67 14.16 28.98 13.7 30.3 13.19 31.62 12.63 32.94 12.01 34.25 11.34 35.57 10.61 36.89 9.82 38.21 8.97 39.52 8.03 40.84 6.99 42.16 5.83 43.48 4.49 44.79 2.85 46.11 2.2 47.43 L-2.2 47.43 -2.85 46.11 -4.49 44.79 -5.83 43.48 -6.99 42.16 -8.03 40.84 -8.97 39.52 -9.82 38.21 -10.61 36.89 -11.34 35.57 -12.01 34.25 -12.63 32.94 -13.19 31.62 -13.7 30.3 -14.16 28.98 -14.57 27.67 -14.92 26.35 -15.21 25.03 -15.42 23.71 -15.5 22.4 -15.46 21.08 -15.36 19.76 -15.22 18.44 -15.02 17.13 -14.76 15.81 -14.44 14.49 -14.06 13.17 -13.6 11.86 -13.08 10.54 -12.46 9.22 -11.74 7.9 -10.9 6.59 -9.92 5.27 -8.73 3.95 -7.24 2.63 -5.2 1.32 -0 0Z" fill="url(#lf12g)"/><g clip-path="url(#lf12)"><g filter="url(#blur1)"><ellipse cx="3.1" cy="28.46" rx="5" ry="6" fill="#d0c040" opacity="0.4"/></g></g></g>
<path d="M715.2 72.3 L717.8 96.3" fill="none" stroke="#5a5030" stroke-width="2" stroke-linecap="round" stroke-linejoin="round"/><path d="M715.2 72.3 L716.37 84.75" fill="none" stroke="#5a5030" stroke-width="3" stroke-linecap="round"/><g transform="translate(709.3 19.4) rotate(-6.03)"><clipPath id="lf13"><path d="M0 0 6.54 1.56 9.11 3.12 10.98 4.68 12.48 6.25 13.72 7.81 14.77 9.37 15.67 10.93 16.45 12.49 17.12 14.05 17.68 15.61 18.17 17.18 18.57 18.74 18.89 20.3 19.15 21.86 19.33 23.42 19.45 24.98 19.5 26.54 19.4 28.11 19.14 29.67 18.77 31.23 18.33 32.79 17.82 34.35 17.24 35.91 16.59 37.47 15.88 39.04 15.11 40.6 14.27 42.16 13.35 43.72 12.36 45.28 11.28 46.84 10.1 48.4 8.79 49.96 7.33 51.53 5.65 53.09 3.59 54.65 2.2 56.21 L-2.2 56.21 -3.59 54.65 -5.65 53.09 -7.33 51.53 -8.79 49.96 -10.1 48.4 -11.28 46.84 -12.36 45.28 -13.35 43.72 -14.27 42.16 -15.11 40.6 -15.88 39.04 -16.59 37.47 -17.24 35.91 -17.82 34.35 -18.33 32.79 -18.77 31.23 -19.14 29.67 -19.4 28.11 -19.5 26.54 -19.45 24.98 -19.33 23.42 -19.15 21.86 -18.89 20.3 -18.57 18.74 -18.17 17.18 -17.68 15.61 -17.12 14.05 -16.45 12.49 -15.67 10.93 -14.77 9.37 -13.72 7.81 -12.48 6.25 -10.98 4.68 -9.11 3.12 -6.54 1.56 -0 0Z"/></clipPath><path d="M0 0 6.54 1.56 9.11 3.12 10.98 4.68 12.48 6.25 13.72 7.81 14.77 9.37 15.67 10.93 16.45 12.49 17.12 14.05 17.68 15.61 18.17 17.18 18.57 18.74 18.89 20.3 19.15 21.86 19.33 23.42 19.45 24.98 19.5 26.54 19.4 28.11 19.14 29.67 18.77 31.23 18.33 32.79 17.82 34.35 17.24 35.91 16.59 37.47 15.88 39.04 15.11 40.6 14.27 42.16 13.35 43.72 12.36 45.28 11.28 46.84 10.1 48.4 8.79 49.96 7.33 51.53 5.65 53.09 3.59 54.65 2.2 56.21 L-2.2 56.21 -3.59 54.65 -5.65 53.09 -7.33 51.53 -8.79 49.96 -10.1 48.4 -11.28 46.84 -12.36 45.28 -13.35 43.72 -14.27 42.16 -15.11 40.6 -15.88 39.04 -16.59 37.47 -17.24 35.91 -17.82 34.35 -18.33 32.79 -18.77 31.23 -19.14 29.67 -19.4 28.11 -19.5 26.54 -19.45 24.98 -19.33 23.42 -19.15 21.86 -18.89 20.3 -18.57 18.74 -18.17 17.18 -17.68 15.61 -17.12 14.05 -16.45 12.49 -15.67 10.93 -14.77 9.37 -13.72 7.81 -12.48 6.25 -10.98 4.68 -9.11 3.12 -6.54 1.56 -0 0Z" fill="url(#lf13g)"/><g clip-path="url(#lf13)"><g filter="url(#blur1)"><ellipse cx="0.78" cy="43.84" rx="3" ry="12" fill="#88b830" opacity="0.85"/><ellipse cx="-14.82" cy="11.24" rx="4" ry="8" fill="#90c040" opacity="0.7"/><ellipse cx="15.6" cy="28.11" rx="3" ry="5" fill="#b8c038" opacity="0.4"/><ellipse cx="-3.9" cy="30.92" rx="4" ry="5" fill="#e8e0a0" opacity="0.4"/></g></g></g>
<rect x="78.34" y="241.59" width="25.5" height="146.61" fill="#000"/>
<rect x="123.27" y="245.62" width="24.4" height="142.58" fill="#808080" stroke="#222" stroke-width="1.1"/>
<rect x="167.65" y="221.83" width="24.4" height="166.37" fill="#808080" stroke="#222" stroke-width="1.1"/>
<rect x="212.03" y="248.12" width="24.4" height="140.08" fill="#808080" stroke="#222" stroke-width="1.1"/>
<rect x="256.41" y="151.03" width="24.4" height="237.17" fill="#dcd7c2" stroke="#222" stroke-width="1.1"/>
<line x1="91.09" y1="216.55" x2="91.09" y2="266.63" stroke="#000" stroke-width="1.4" stroke-linecap="butt"/>
<line x1="89.39" y1="216.55" x2="92.79" y2="216.55" stroke="#000" stroke-width="1.6" stroke-linecap="butt"/>
<line x1="89.39" y1="266.63" x2="92.79" y2="266.63" stroke="#000" stroke-width="1.6" stroke-linecap="butt"/>
<line x1="135.47" y1="219.61" x2="135.47" y2="270.52" stroke="#000" stroke-width="1.4" stroke-linecap="butt"/>
<line x1="133.77" y1="219.61" x2="137.17" y2="219.61" stroke="#000" stroke-width="1.6" stroke-linecap="butt"/>
<line x1="133.77" y1="270.52" x2="137.17" y2="270.52" stroke="#000" stroke-width="1.6" stroke-linecap="butt"/>
<line x1="179.85" y1="192.07" x2="179.85" y2="250.49" stroke="#000" stroke-width="1.4" stroke-linecap="butt"/>
<line x1="178.15" y1="192.07" x2="181.55" y2="192.07" stroke="#000" stroke-width="1.6" stroke-linecap="butt"/>
<line x1="178.15" y1="250.49" x2="181.55" y2="250.49" stroke="#000" stroke-width="1.6" stroke-linecap="butt"/>
<line x1="224.23" y1="217.66" x2="224.23" y2="277.48" stroke="#000" stroke-width="1.4" stroke-linecap="butt"/>
<line x1="222.53" y1="217.66" x2="225.93" y2="217.66" stroke="#000" stroke-width="1.6" stroke-linecap="butt"/>
<line x1="222.53" y1="277.48" x2="225.93" y2="277.48" stroke="#000" stroke-width="1.6" stroke-linecap="butt"/>
<line x1="268.61" y1="141.58" x2="268.61" y2="159.38" stroke="#000" stroke-width="1.4" stroke-linecap="butt"/>
<line x1="266.91" y1="141.58" x2="270.31" y2="141.58" stroke="#000" stroke-width="1.6" stroke-linecap="butt"/>
<line x1="266.91" y1="159.38" x2="270.31" y2="159.38" stroke="#000" stroke-width="1.6" stroke-linecap="butt"/>
<path d="M68.9 110H290.8V388.2H68.9Z" fill="none" stroke="#111" stroke-width="1.5"/>
<line x1="66.3" y1="388.2" x2="68.9" y2="388.2" stroke="#111" stroke-width="1.5" stroke-linecap="butt"/>
<text x="52.79" y="394.05" font-size="17" font-style="normal" font-weight="normal" fill="#000">3</text>
<line x1="66.3" y1="318.65" x2="68.9" y2="318.65" stroke="#111" stroke-width="1.5" stroke-linecap="butt"/>
<text x="52.54" y="324.5" font-size="17" font-style="normal" font-weight="normal" fill="#000">4</text>
<line x1="66.3" y1="249.1" x2="68.9" y2="249.1" stroke="#111" stroke-width="1.5" stroke-linecap="butt"/>
<text x="52.76" y="254.95" font-size="17" font-style="normal" font-weight="normal" fill="#000">5</text>
<line x1="66.3" y1="179.55" x2="68.9" y2="179.55" stroke="#111" stroke-width="1.5" stroke-linecap="butt"/>
<text x="52.79" y="185.4" font-size="17" font-style="normal" font-weight="normal" fill="#000">6</text>
<line x1="66.3" y1="110" x2="68.9" y2="110" stroke="#111" stroke-width="1.5" stroke-linecap="butt"/>
<text x="52.9" y="115.85" font-size="17" font-style="normal" font-weight="normal" fill="#000">7</text>
<line x1="68.9" y1="388.2" x2="68.9" y2="390.8" stroke="#111" stroke-width="1.5" stroke-linecap="butt"/>
<line x1="113.28" y1="388.2" x2="113.28" y2="390.8" stroke="#111" stroke-width="1.5" stroke-linecap="butt"/>
<line x1="157.66" y1="388.2" x2="157.66" y2="390.8" stroke="#111" stroke-width="1.5" stroke-linecap="butt"/>
<line x1="202.04" y1="388.2" x2="202.04" y2="390.8" stroke="#111" stroke-width="1.5" stroke-linecap="butt"/>
<line x1="246.42" y1="388.2" x2="246.42" y2="390.8" stroke="#111" stroke-width="1.5" stroke-linecap="butt"/>
<line x1="290.8" y1="388.2" x2="290.8" y2="390.8" stroke="#111" stroke-width="1.5" stroke-linecap="butt"/>
<path d="M269.65 127.8 L270.25 121.5 L267.35 121.5 L267.95 127.8ZM269.04 128.61 L275.25 127.38 L274.42 124.6 L268.56 126.99ZM269.04 126.99 L263.18 124.6 L262.35 127.38 L268.56 128.61ZM268.1 128.28 L270.73 133.25 L273.13 131.63 L269.5 127.32ZM268.1 127.32 L264.47 131.63 L266.87 133.25 L269.5 128.28Z" fill="#000"/>
<text x="78.42" y="408.3" font-size="16.5" font-style="normal" font-weight="normal" fill="#000">WT</text>
<text x="119.53" y="408.3" font-size="16.5" font-style="italic" font-weight="normal" fill="#000">upl6</text>
<text x="163.65" y="408.3" font-size="16.5" font-style="italic" font-weight="normal" fill="#000">upl7</text>
<text x="208.29" y="408.3" font-size="16.5" font-style="italic" font-weight="normal" fill="#000">upl6</text>
<text x="252.66" y="408.3" font-size="16.5" font-style="italic" font-weight="normal" fill="#000">npr1</text>
<text x="208.03" y="424.4" font-size="16.5" font-style="italic" font-weight="normal" fill="#000">upl7</text>
<text transform="translate(31.6 248) rotate(-90)" text-anchor="middle" font-size="21">log<tspan font-size="12" dy="7">10</tspan><tspan dy="-7"> cfu/leaf disc</tspan></text>
<rect x="398.2" y="223.29" width="25" height="165.71" fill="#000"/>
<rect x="442.2" y="260.89" width="25" height="128.11" fill="#000"/>
<rect x="486.75" y="224.01" width="23.9" height="164.99" fill="#808080" stroke="#222" stroke-width="1.1"/>
<rect x="530.75" y="265.62" width="23.9" height="123.38" fill="#808080" stroke="#222" stroke-width="1.1"/>
<rect x="574.75" y="238.88" width="23.9" height="150.12" fill="#808080" stroke="#222" stroke-width="1.1"/>
<rect x="618.75" y="275.37" width="23.9" height="113.64" fill="#808080" stroke="#222" stroke-width="1.1"/>
<rect x="662.75" y="159.06" width="23.9" height="229.94" fill="#dcd7c2" stroke="#222" stroke-width="1.1"/>
<rect x="706.75" y="169.65" width="23.9" height="219.35" fill="#dcd7c2" stroke="#222" stroke-width="1.1"/>
<line x1="410.7" y1="215.49" x2="410.7" y2="231.09" stroke="#000" stroke-width="1.4" stroke-linecap="butt"/>
<line x1="409" y1="215.49" x2="412.4" y2="215.49" stroke="#000" stroke-width="1.6" stroke-linecap="butt"/>
<line x1="409" y1="231.09" x2="412.4" y2="231.09" stroke="#000" stroke-width="1.6" stroke-linecap="butt"/>
<line x1="454.7" y1="249.75" x2="454.7" y2="272.03" stroke="#000" stroke-width="1.4" stroke-linecap="butt"/>
<line x1="453" y1="249.75" x2="456.4" y2="249.75" stroke="#000" stroke-width="1.6" stroke-linecap="butt"/>
<line x1="453" y1="272.03" x2="456.4" y2="272.03" stroke="#000" stroke-width="1.6" stroke-linecap="butt"/>
<line x1="498.7" y1="207.86" x2="498.7" y2="239.06" stroke="#000" stroke-width="1.4" stroke-linecap="butt"/>
<line x1="497" y1="207.86" x2="500.4" y2="207.86" stroke="#000" stroke-width="1.6" stroke-linecap="butt"/>
<line x1="497" y1="239.06" x2="500.4" y2="239.06" stroke="#000" stroke-width="1.6" stroke-linecap="butt"/>
<line x1="542.7" y1="251.7" x2="542.7" y2="278.44" stroke="#000" stroke-width="1.4" stroke-linecap="butt"/>
<line x1="541" y1="251.7" x2="544.4" y2="251.7" stroke="#000" stroke-width="1.6" stroke-linecap="butt"/>
<line x1="541" y1="278.44" x2="544.4" y2="278.44" stroke="#000" stroke-width="1.6" stroke-linecap="butt"/>
<line x1="586.7" y1="224.41" x2="586.7" y2="252.26" stroke="#000" stroke-width="1.4" stroke-linecap="butt"/>
<line x1="585" y1="224.41" x2="588.4" y2="224.41" stroke="#000" stroke-width="1.6" stroke-linecap="butt"/>
<line x1="585" y1="252.26" x2="588.4" y2="252.26" stroke="#000" stroke-width="1.6" stroke-linecap="butt"/>
<line x1="630.7" y1="261.45" x2="630.7" y2="288.18" stroke="#000" stroke-width="1.4" stroke-linecap="butt"/>
<line x1="629" y1="261.45" x2="632.4" y2="261.45" stroke="#000" stroke-width="1.6" stroke-linecap="butt"/>
<line x1="629" y1="288.18" x2="632.4" y2="288.18" stroke="#000" stroke-width="1.6" stroke-linecap="butt"/>
<line x1="674.7" y1="147.37" x2="674.7" y2="169.65" stroke="#000" stroke-width="1.4" stroke-linecap="butt"/>
<line x1="673" y1="147.37" x2="676.4" y2="147.37" stroke="#000" stroke-width="1.6" stroke-linecap="butt"/>
<line x1="673" y1="169.65" x2="676.4" y2="169.65" stroke="#000" stroke-width="1.6" stroke-linecap="butt"/>
<line x1="718.7" y1="160.74" x2="718.7" y2="177.45" stroke="#000" stroke-width="1.4" stroke-linecap="butt"/>
<line x1="717" y1="160.74" x2="720.4" y2="160.74" stroke="#000" stroke-width="1.6" stroke-linecap="butt"/>
<line x1="717" y1="177.45" x2="720.4" y2="177.45" stroke="#000" stroke-width="1.6" stroke-linecap="butt"/>
<path d="M388.7 110.5H740.7V389H388.7Z" fill="none" stroke="#111" stroke-width="1.5"/>
<line x1="386.1" y1="389" x2="388.7" y2="389" stroke="#111" stroke-width="1.5" stroke-linecap="butt"/>
<text x="372.65" y="395.38" font-size="16.5" font-style="normal" font-weight="normal" fill="#000">3</text>
<line x1="386.1" y1="333.3" x2="388.7" y2="333.3" stroke="#111" stroke-width="1.5" stroke-linecap="butt"/>
<text x="372.41" y="339.68" font-size="16.5" font-style="normal" font-weight="normal" fill="#000">4</text>
<line x1="386.1" y1="277.6" x2="388.7" y2="277.6" stroke="#111" stroke-width="1.5" stroke-linecap="butt"/>
<text x="372.62" y="283.98" font-size="16.5" font-style="normal" font-weight="normal" fill="#000">5</text>
<line x1="386.1" y1="221.9" x2="388.7" y2="221.9" stroke="#111" stroke-width="1.5" stroke-linecap="butt"/>
<text x="372.65" y="228.28" font-size="16.5" font-style="normal" font-weight="normal" fill="#000">6</text>
<line x1="386.1" y1="166.2" x2="388.7" y2="166.2" stroke="#111" stroke-width="1.5" stroke-linecap="butt"/>
<text x="372.75" y="172.58" font-size="16.5" font-style="normal" font-weight="normal" fill="#000">7</text>
<line x1="386.1" y1="110.5" x2="388.7" y2="110.5" stroke="#111" stroke-width="1.5" stroke-linecap="butt"/>
<text x="372.64" y="116.88" font-size="16.5" font-style="normal" font-weight="normal" fill="#000">8</text>
<line x1="388.7" y1="389" x2="388.7" y2="391.6" stroke="#111" stroke-width="1.5" stroke-linecap="butt"/>
<line x1="432.7" y1="389" x2="432.7" y2="391.6" stroke="#111" stroke-width="1.5" stroke-linecap="butt"/>
<line x1="476.7" y1="389" x2="476.7" y2="391.6" stroke="#111" stroke-width="1.5" stroke-linecap="butt"/>
<line x1="520.7" y1="389" x2="520.7" y2="391.6" stroke="#111" stroke-width="1.5" stroke-linecap="butt"/>
<line x1="564.7" y1="389" x2="564.7" y2="391.6" stroke="#111" stroke-width="1.5" stroke-linecap="butt"/>
<line x1="608.7" y1="389" x2="608.7" y2="391.6" stroke="#111" stroke-width="1.5" stroke-linecap="butt"/>
<line x1="652.7" y1="389" x2="652.7" y2="391.6" stroke="#111" stroke-width="1.5" stroke-linecap="butt"/>
<line x1="696.7" y1="389" x2="696.7" y2="391.6" stroke="#111" stroke-width="1.5" stroke-linecap="butt"/>
<line x1="740.7" y1="389" x2="740.7" y2="391.6" stroke="#111" stroke-width="1.5" stroke-linecap="butt"/>
<path d="M455.55 241.7 L456.15 235.4 L453.25 235.4 L453.85 241.7ZM454.94 242.51 L461.15 241.28 L460.32 238.5 L454.46 240.89ZM454.94 240.89 L449.08 238.5 L448.25 241.28 L454.46 242.51ZM454 242.18 L456.63 247.15 L459.03 245.53 L455.4 241.22ZM454 241.22 L450.37 245.53 L452.77 247.15 L455.4 242.18Z" fill="#000"/>
<path d="M543.55 242.4 L544.15 236.1 L541.25 236.1 L541.85 242.4ZM542.94 243.21 L549.15 241.98 L548.32 239.2 L542.46 241.59ZM542.94 241.59 L537.08 239.2 L536.25 241.98 L542.46 243.21ZM542 242.88 L544.63 247.85 L547.03 246.23 L543.4 241.92ZM542 241.92 L538.37 246.23 L540.77 247.85 L543.4 242.88Z" fill="#000"/>
<path d="M631.55 251.7 L632.15 245.4 L629.25 245.4 L629.85 251.7ZM630.94 252.51 L637.15 251.28 L636.32 248.5 L630.46 250.89ZM630.94 250.89 L625.08 248.5 L624.25 251.28 L630.46 252.51ZM630 252.18 L632.63 257.15 L635.03 255.53 L631.4 251.22ZM630 251.22 L626.37 255.53 L628.77 257.15 L631.4 252.18Z" fill="#000"/>
<line x1="404.7" y1="403" x2="416.7" y2="403" stroke="#000" stroke-width="2" stroke-linecap="butt"/>
<line x1="448.7" y1="403" x2="460.7" y2="403" stroke="#000" stroke-width="2" stroke-linecap="butt"/>
<line x1="454.7" y1="397" x2="454.7" y2="409" stroke="#000" stroke-width="2" stroke-linecap="butt"/>
<line x1="492.7" y1="403" x2="504.7" y2="403" stroke="#000" stroke-width="2" stroke-linecap="butt"/>
<line x1="536.7" y1="403" x2="548.7" y2="403" stroke="#000" stroke-width="2" stroke-linecap="butt"/>
<line x1="542.7" y1="397" x2="542.7" y2="409" stroke="#000" stroke-width="2" stroke-linecap="butt"/>
<line x1="580.7" y1="403" x2="592.7" y2="403" stroke="#000" stroke-width="2" stroke-linecap="butt"/>
<line x1="624.7" y1="403" x2="636.7" y2="403" stroke="#000" stroke-width="2" stroke-linecap="butt"/>
<line x1="630.7" y1="397" x2="630.7" y2="409" stroke="#000" stroke-width="2" stroke-linecap="butt"/>
<line x1="668.7" y1="403" x2="680.7" y2="403" stroke="#000" stroke-width="2" stroke-linecap="butt"/>
<line x1="712.7" y1="403" x2="724.7" y2="403" stroke="#000" stroke-width="2" stroke-linecap="butt"/>
<line x1="718.7" y1="397" x2="718.7" y2="409" stroke="#000" stroke-width="2" stroke-linecap="butt"/>
<line x1="392.7" y1="417.2" x2="471.1" y2="417.2" stroke="#444" stroke-width="1.5" stroke-linecap="butt"/>
<text x="418.21" y="434.5" font-size="16" font-style="normal" font-weight="normal" fill="#000">WT</text>
<line x1="481.7" y1="417.2" x2="560.6" y2="417.2" stroke="#444" stroke-width="1.5" stroke-linecap="butt"/>
<text x="504.67" y="434.5" font-size="16.8" font-style="italic" font-weight="normal" fill="#000">upl6</text>
<line x1="570.4" y1="417.2" x2="648.8" y2="417.2" stroke="#444" stroke-width="1.5" stroke-linecap="butt"/>
<text x="591.46" y="434.5" font-size="16.8" font-style="italic" font-weight="normal" fill="#000">upl7</text>
<line x1="658.2" y1="417.2" x2="737.5" y2="417.2" stroke="#444" stroke-width="1.5" stroke-linecap="butt"/>
<text x="682.66" y="434.5" font-size="16.8" font-style="italic" font-weight="normal" fill="#000">npr1</text>
<text x="744.57" y="409.2" font-size="16" font-style="normal" font-weight="normal" fill="#000">SA</text>
<text transform="translate(353.2 248.3) rotate(-90)" text-anchor="middle" font-size="21">log<tspan font-size="12" dy="7">10</tspan><tspan dy="-7"> cfu/leaf disc</tspan></text>
<rect x="78.83" y="697.96" width="17" height="0.24" fill="#000"/>
<rect x="108.9" y="559.14" width="17" height="139.06" fill="#000"/>
<rect x="139.52" y="698.27" width="15.9" height="-0.07" fill="#808080" stroke="#222" stroke-width="1.1"/>
<rect x="169.58" y="555.86" width="15.9" height="142.34" fill="#808080" stroke="#222" stroke-width="1.1"/>
<rect x="199.65" y="697.31" width="15.9" height="0.89" fill="#808080" stroke="#222" stroke-width="1.1"/>
<rect x="229.72" y="551.54" width="15.9" height="146.66" fill="#808080" stroke="#222" stroke-width="1.1"/>
<line x1="117.4" y1="541.4" x2="117.4" y2="576.89" stroke="#000" stroke-width="1.1" stroke-linecap="butt"/>
<line x1="115.8" y1="541.4" x2="119" y2="541.4" stroke="#000" stroke-width="1.1" stroke-linecap="butt"/>
<line x1="115.8" y1="576.89" x2="119" y2="576.89" stroke="#000" stroke-width="1.1" stroke-linecap="butt"/>
<line x1="177.53" y1="537.57" x2="177.53" y2="573.05" stroke="#000" stroke-width="1.1" stroke-linecap="butt"/>
<line x1="175.93" y1="537.57" x2="179.13" y2="537.57" stroke="#000" stroke-width="1.1" stroke-linecap="butt"/>
<line x1="175.93" y1="573.05" x2="179.13" y2="573.05" stroke="#000" stroke-width="1.1" stroke-linecap="butt"/>
<line x1="237.67" y1="548.6" x2="237.67" y2="553.39" stroke="#000" stroke-width="1.1" stroke-linecap="butt"/>
<line x1="236.07" y1="548.6" x2="239.27" y2="548.6" stroke="#000" stroke-width="1.1" stroke-linecap="butt"/>
<line x1="236.07" y1="553.39" x2="239.27" y2="553.39" stroke="#000" stroke-width="1.1" stroke-linecap="butt"/>
<path d="M72.3 506.4H252.7V698.2H72.3Z" fill="none" stroke="#222" stroke-width="1.3"/>
<line x1="70.7" y1="698.2" x2="72.3" y2="698.2" stroke="#222" stroke-width="1.3" stroke-linecap="butt"/>
<text x="34.11" y="703.81" font-size="16.3" font-style="normal" font-weight="normal" fill="#000">0.00</text>
<line x1="70.7" y1="650.25" x2="72.3" y2="650.25" stroke="#222" stroke-width="1.3" stroke-linecap="butt"/>
<text x="34.27" y="655.86" font-size="16.3" font-style="normal" font-weight="normal" fill="#000">0.01</text>
<line x1="70.7" y1="602.3" x2="72.3" y2="602.3" stroke="#222" stroke-width="1.3" stroke-linecap="butt"/>
<text x="34.3" y="607.91" font-size="16.3" font-style="normal" font-weight="normal" fill="#000">0.02</text>
<line x1="70.7" y1="554.35" x2="72.3" y2="554.35" stroke="#222" stroke-width="1.3" stroke-linecap="butt"/>
<text x="34.19" y="559.96" font-size="16.3" font-style="normal" font-weight="normal" fill="#000">0.03</text>
<line x1="70.7" y1="506.4" x2="72.3" y2="506.4" stroke="#222" stroke-width="1.3" stroke-linecap="butt"/>
<text x="33.95" y="512.01" font-size="16.3" font-style="normal" font-weight="normal" fill="#000">0.04</text>
<line x1="72.3" y1="698.2" x2="72.3" y2="699.8" stroke="#222" stroke-width="1.3" stroke-linecap="butt"/>
<line x1="102.37" y1="698.2" x2="102.37" y2="699.8" stroke="#222" stroke-width="1.3" stroke-linecap="butt"/>
<line x1="132.43" y1="698.2" x2="132.43" y2="699.8" stroke="#222" stroke-width="1.3" stroke-linecap="butt"/>
<line x1="162.5" y1="698.2" x2="162.5" y2="699.8" stroke="#222" stroke-width="1.3" stroke-linecap="butt"/>
<line x1="192.57" y1="698.2" x2="192.57" y2="699.8" stroke="#222" stroke-width="1.3" stroke-linecap="butt"/>
<line x1="222.63" y1="698.2" x2="222.63" y2="699.8" stroke="#222" stroke-width="1.3" stroke-linecap="butt"/>
<line x1="252.7" y1="698.2" x2="252.7" y2="699.8" stroke="#222" stroke-width="1.3" stroke-linecap="butt"/>
<text x="136.04" y="501.1" font-size="21.3" font-style="italic" font-weight="normal" fill="#000">PR-1</text>
<line x1="80.53" y1="710" x2="92.53" y2="710" stroke="#000" stroke-width="2" stroke-linecap="butt"/>
<line x1="110.6" y1="710" x2="122.6" y2="710" stroke="#000" stroke-width="2" stroke-linecap="butt"/>
<line x1="116.6" y1="704" x2="116.6" y2="716" stroke="#000" stroke-width="2" stroke-linecap="butt"/>
<line x1="140.67" y1="710" x2="152.67" y2="710" stroke="#000" stroke-width="2" stroke-linecap="butt"/>
<line x1="170.73" y1="710" x2="182.73" y2="710" stroke="#000" stroke-width="2" stroke-linecap="butt"/>
<line x1="176.73" y1="704" x2="176.73" y2="716" stroke="#000" stroke-width="2" stroke-linecap="butt"/>
<line x1="200.8" y1="710" x2="212.8" y2="710" stroke="#000" stroke-width="2" stroke-linecap="butt"/>
<line x1="230.87" y1="710" x2="242.87" y2="710" stroke="#000" stroke-width="2" stroke-linecap="butt"/>
<line x1="236.87" y1="704" x2="236.87" y2="716" stroke="#000" stroke-width="2" stroke-linecap="butt"/>
<line x1="74.2" y1="723.6" x2="129.1" y2="723.6" stroke="#444" stroke-width="1.5" stroke-linecap="butt"/>
<text x="89.76" y="741.5" font-size="16" font-style="normal" font-weight="normal" fill="#000">WT</text>
<line x1="134.5" y1="723.6" x2="190.5" y2="723.6" stroke="#444" stroke-width="1.5" stroke-linecap="butt"/>
<text x="144.66" y="741.5" font-size="16.6" font-style="italic" font-weight="normal" fill="#000">upl6</text>
<line x1="195.4" y1="723.6" x2="251.1" y2="723.6" stroke="#444" stroke-width="1.5" stroke-linecap="butt"/>
<text x="205.35" y="741.5" font-size="16.6" font-style="italic" font-weight="normal" fill="#000">upl7</text>
<rect x="325.53" y="660.79" width="17" height="37.61" fill="#000"/>
<rect x="356" y="524.55" width="17" height="173.85" fill="#000"/>
<rect x="387.02" y="651.17" width="15.9" height="47.23" fill="#808080" stroke="#222" stroke-width="1.1"/>
<rect x="417.48" y="538.66" width="15.9" height="159.74" fill="#808080" stroke="#222" stroke-width="1.1"/>
<rect x="447.95" y="645.2" width="15.9" height="53.2" fill="#808080" stroke="#222" stroke-width="1.1"/>
<rect x="478.42" y="525.1" width="15.9" height="173.3" fill="#808080" stroke="#222" stroke-width="1.1"/>
<line x1="334.03" y1="656.43" x2="334.03" y2="665.15" stroke="#000" stroke-width="1.1" stroke-linecap="butt"/>
<line x1="332.43" y1="656.43" x2="335.63" y2="656.43" stroke="#000" stroke-width="1.1" stroke-linecap="butt"/>
<line x1="332.43" y1="665.15" x2="335.63" y2="665.15" stroke="#000" stroke-width="1.1" stroke-linecap="butt"/>
<line x1="364.5" y1="522.29" x2="364.5" y2="526.81" stroke="#000" stroke-width="1.1" stroke-linecap="butt"/>
<line x1="362.9" y1="522.29" x2="366.1" y2="522.29" stroke="#000" stroke-width="1.1" stroke-linecap="butt"/>
<line x1="362.9" y1="526.81" x2="366.1" y2="526.81" stroke="#000" stroke-width="1.1" stroke-linecap="butt"/>
<line x1="394.97" y1="650.14" x2="394.97" y2="651.1" stroke="#000" stroke-width="1.1" stroke-linecap="butt"/>
<line x1="393.37" y1="650.14" x2="396.57" y2="650.14" stroke="#000" stroke-width="1.1" stroke-linecap="butt"/>
<line x1="393.37" y1="651.1" x2="396.57" y2="651.1" stroke="#000" stroke-width="1.1" stroke-linecap="butt"/>
<line x1="425.43" y1="527.14" x2="425.43" y2="549.09" stroke="#000" stroke-width="1.1" stroke-linecap="butt"/>
<line x1="423.83" y1="527.14" x2="427.03" y2="527.14" stroke="#000" stroke-width="1.1" stroke-linecap="butt"/>
<line x1="423.83" y1="549.09" x2="427.03" y2="549.09" stroke="#000" stroke-width="1.1" stroke-linecap="butt"/>
<line x1="455.9" y1="641.42" x2="455.9" y2="647.88" stroke="#000" stroke-width="1.1" stroke-linecap="butt"/>
<line x1="454.3" y1="641.42" x2="457.5" y2="641.42" stroke="#000" stroke-width="1.1" stroke-linecap="butt"/>
<line x1="454.3" y1="647.88" x2="457.5" y2="647.88" stroke="#000" stroke-width="1.1" stroke-linecap="butt"/>
<line x1="486.37" y1="519.23" x2="486.37" y2="529.88" stroke="#000" stroke-width="1.1" stroke-linecap="butt"/>
<line x1="484.77" y1="519.23" x2="487.97" y2="519.23" stroke="#000" stroke-width="1.1" stroke-linecap="butt"/>
<line x1="484.77" y1="529.88" x2="487.97" y2="529.88" stroke="#000" stroke-width="1.1" stroke-linecap="butt"/>
<path d="M318.8 504.7H501.6V698.4H318.8Z" fill="none" stroke="#222" stroke-width="1.3"/>
<line x1="317.2" y1="698.4" x2="318.8" y2="698.4" stroke="#222" stroke-width="1.3" stroke-linecap="butt"/>
<text x="280.33" y="704.08" font-size="16.5" font-style="normal" font-weight="normal" fill="#000">0.00</text>
<line x1="317.2" y1="649.98" x2="318.8" y2="649.98" stroke="#222" stroke-width="1.3" stroke-linecap="butt"/>
<text x="280.41" y="655.65" font-size="16.5" font-style="normal" font-weight="normal" fill="#000">0.03</text>
<line x1="317.2" y1="601.55" x2="318.8" y2="601.55" stroke="#222" stroke-width="1.3" stroke-linecap="butt"/>
<text x="280.41" y="607.23" font-size="16.5" font-style="normal" font-weight="normal" fill="#000">0.06</text>
<line x1="317.2" y1="553.12" x2="318.8" y2="553.12" stroke="#222" stroke-width="1.3" stroke-linecap="butt"/>
<text x="280.47" y="558.8" font-size="16.5" font-style="normal" font-weight="normal" fill="#000">0.09</text>
<line x1="317.2" y1="504.7" x2="318.8" y2="504.7" stroke="#222" stroke-width="1.3" stroke-linecap="butt"/>
<text x="280.52" y="510.38" font-size="16.5" font-style="normal" font-weight="normal" fill="#000">0.12</text>
<line x1="318.8" y1="698.4" x2="318.8" y2="700" stroke="#222" stroke-width="1.3" stroke-linecap="butt"/>
<line x1="349.27" y1="698.4" x2="349.27" y2="700" stroke="#222" stroke-width="1.3" stroke-linecap="butt"/>
<line x1="379.73" y1="698.4" x2="379.73" y2="700" stroke="#222" stroke-width="1.3" stroke-linecap="butt"/>
<line x1="410.2" y1="698.4" x2="410.2" y2="700" stroke="#222" stroke-width="1.3" stroke-linecap="butt"/>
<line x1="440.67" y1="698.4" x2="440.67" y2="700" stroke="#222" stroke-width="1.3" stroke-linecap="butt"/>
<line x1="471.13" y1="698.4" x2="471.13" y2="700" stroke="#222" stroke-width="1.3" stroke-linecap="butt"/>
<line x1="501.6" y1="698.4" x2="501.6" y2="700" stroke="#222" stroke-width="1.3" stroke-linecap="butt"/>
<text x="364.39" y="500.4" font-size="21" font-style="italic" font-weight="normal" fill="#000">WRKY18</text>
<line x1="327.23" y1="710" x2="339.23" y2="710" stroke="#000" stroke-width="2" stroke-linecap="butt"/>
<line x1="357.7" y1="710" x2="369.7" y2="710" stroke="#000" stroke-width="2" stroke-linecap="butt"/>
<line x1="363.7" y1="704" x2="363.7" y2="716" stroke="#000" stroke-width="2" stroke-linecap="butt"/>
<line x1="388.17" y1="710" x2="400.17" y2="710" stroke="#000" stroke-width="2" stroke-linecap="butt"/>
<line x1="418.63" y1="710" x2="430.63" y2="710" stroke="#000" stroke-width="2" stroke-linecap="butt"/>
<line x1="424.63" y1="704" x2="424.63" y2="716" stroke="#000" stroke-width="2" stroke-linecap="butt"/>
<line x1="449.1" y1="710" x2="461.1" y2="710" stroke="#000" stroke-width="2" stroke-linecap="butt"/>
<line x1="479.57" y1="710" x2="491.57" y2="710" stroke="#000" stroke-width="2" stroke-linecap="butt"/>
<line x1="485.57" y1="704" x2="485.57" y2="716" stroke="#000" stroke-width="2" stroke-linecap="butt"/>
<line x1="320.9" y1="723.8" x2="376.9" y2="723.8" stroke="#444" stroke-width="1.5" stroke-linecap="butt"/>
<text x="336.91" y="741.5" font-size="16" font-style="normal" font-weight="normal" fill="#000">WT</text>
<line x1="382.1" y1="723.8" x2="437.6" y2="723.8" stroke="#444" stroke-width="1.5" stroke-linecap="butt"/>
<text x="391.76" y="741.5" font-size="16.6" font-style="italic" font-weight="normal" fill="#000">upl6</text>
<line x1="442.8" y1="723.8" x2="498.6" y2="723.8" stroke="#444" stroke-width="1.5" stroke-linecap="butt"/>
<text x="452.8" y="741.5" font-size="16.6" font-style="italic" font-weight="normal" fill="#000">upl7</text>
<rect x="570.99" y="691.86" width="17" height="6.54" fill="#000"/>
<rect x="601.17" y="520.33" width="17" height="178.07" fill="#000"/>
<rect x="631.91" y="683.57" width="15.9" height="14.83" fill="#808080" stroke="#222" stroke-width="1.1"/>
<rect x="662.09" y="566.26" width="15.9" height="132.14" fill="#808080" stroke="#222" stroke-width="1.1"/>
<rect x="692.27" y="687.03" width="15.9" height="11.37" fill="#808080" stroke="#222" stroke-width="1.1"/>
<rect x="722.46" y="555.49" width="15.9" height="142.91" fill="#808080" stroke="#222" stroke-width="1.1"/>
<line x1="579.49" y1="691.09" x2="579.49" y2="692.63" stroke="#000" stroke-width="1.1" stroke-linecap="butt"/>
<line x1="577.89" y1="691.09" x2="581.09" y2="691.09" stroke="#000" stroke-width="1.1" stroke-linecap="butt"/>
<line x1="577.89" y1="692.63" x2="581.09" y2="692.63" stroke="#000" stroke-width="1.1" stroke-linecap="butt"/>
<line x1="609.67" y1="517.64" x2="609.67" y2="523.02" stroke="#000" stroke-width="1.1" stroke-linecap="butt"/>
<line x1="608.07" y1="517.64" x2="611.27" y2="517.64" stroke="#000" stroke-width="1.1" stroke-linecap="butt"/>
<line x1="608.07" y1="523.02" x2="611.27" y2="523.02" stroke="#000" stroke-width="1.1" stroke-linecap="butt"/>
<line x1="639.86" y1="682.25" x2="639.86" y2="683.79" stroke="#000" stroke-width="1.1" stroke-linecap="butt"/>
<line x1="638.26" y1="682.25" x2="641.46" y2="682.25" stroke="#000" stroke-width="1.1" stroke-linecap="butt"/>
<line x1="638.26" y1="683.79" x2="641.46" y2="683.79" stroke="#000" stroke-width="1.1" stroke-linecap="butt"/>
<line x1="670.04" y1="556.87" x2="670.04" y2="574.56" stroke="#000" stroke-width="1.1" stroke-linecap="butt"/>
<line x1="668.44" y1="556.87" x2="671.64" y2="556.87" stroke="#000" stroke-width="1.1" stroke-linecap="butt"/>
<line x1="668.44" y1="574.56" x2="671.64" y2="574.56" stroke="#000" stroke-width="1.1" stroke-linecap="butt"/>
<line x1="700.23" y1="684.55" x2="700.23" y2="688.4" stroke="#000" stroke-width="1.1" stroke-linecap="butt"/>
<line x1="698.62" y1="684.55" x2="701.83" y2="684.55" stroke="#000" stroke-width="1.1" stroke-linecap="butt"/>
<line x1="698.62" y1="688.4" x2="701.83" y2="688.4" stroke="#000" stroke-width="1.1" stroke-linecap="butt"/>
<line x1="730.41" y1="540.71" x2="730.41" y2="569.17" stroke="#000" stroke-width="1.1" stroke-linecap="butt"/>
<line x1="728.81" y1="540.71" x2="732.01" y2="540.71" stroke="#000" stroke-width="1.1" stroke-linecap="butt"/>
<line x1="728.81" y1="569.17" x2="732.01" y2="569.17" stroke="#000" stroke-width="1.1" stroke-linecap="butt"/>
<path d="M564.4 506.1H745.5V698.4H564.4Z" fill="none" stroke="#222" stroke-width="1.3"/>
<line x1="562.8" y1="698.4" x2="564.4" y2="698.4" stroke="#222" stroke-width="1.3" stroke-linecap="butt"/>
<text x="525.55" y="704.15" font-size="16.7" font-style="normal" font-weight="normal" fill="#000">0.00</text>
<line x1="562.8" y1="659.94" x2="564.4" y2="659.94" stroke="#222" stroke-width="1.3" stroke-linecap="butt"/>
<text x="525.71" y="665.69" font-size="16.7" font-style="normal" font-weight="normal" fill="#000">0.01</text>
<line x1="562.8" y1="621.48" x2="564.4" y2="621.48" stroke="#222" stroke-width="1.3" stroke-linecap="butt"/>
<text x="525.74" y="627.23" font-size="16.7" font-style="normal" font-weight="normal" fill="#000">0.02</text>
<line x1="562.8" y1="583.02" x2="564.4" y2="583.02" stroke="#222" stroke-width="1.3" stroke-linecap="butt"/>
<text x="525.63" y="588.77" font-size="16.7" font-style="normal" font-weight="normal" fill="#000">0.03</text>
<line x1="562.8" y1="544.56" x2="564.4" y2="544.56" stroke="#222" stroke-width="1.3" stroke-linecap="butt"/>
<text x="525.39" y="550.31" font-size="16.7" font-style="normal" font-weight="normal" fill="#000">0.04</text>
<line x1="562.8" y1="506.1" x2="564.4" y2="506.1" stroke="#222" stroke-width="1.3" stroke-linecap="butt"/>
<text x="525.6" y="511.85" font-size="16.7" font-style="normal" font-weight="normal" fill="#000">0.05</text>
<line x1="564.4" y1="698.4" x2="564.4" y2="700" stroke="#222" stroke-width="1.3" stroke-linecap="butt"/>
<line x1="594.58" y1="698.4" x2="594.58" y2="700" stroke="#222" stroke-width="1.3" stroke-linecap="butt"/>
<line x1="624.77" y1="698.4" x2="624.77" y2="700" stroke="#222" stroke-width="1.3" stroke-linecap="butt"/>
<line x1="654.95" y1="698.4" x2="654.95" y2="700" stroke="#222" stroke-width="1.3" stroke-linecap="butt"/>
<line x1="685.13" y1="698.4" x2="685.13" y2="700" stroke="#222" stroke-width="1.3" stroke-linecap="butt"/>
<line x1="715.32" y1="698.4" x2="715.32" y2="700" stroke="#222" stroke-width="1.3" stroke-linecap="butt"/>
<line x1="745.5" y1="698.4" x2="745.5" y2="700" stroke="#222" stroke-width="1.3" stroke-linecap="butt"/>
<text x="608.09" y="501.5" font-size="21" font-style="italic" font-weight="normal" fill="#000">WRKY38</text>
<line x1="572.69" y1="710" x2="584.69" y2="710" stroke="#000" stroke-width="2" stroke-linecap="butt"/>
<line x1="602.88" y1="710" x2="614.88" y2="710" stroke="#000" stroke-width="2" stroke-linecap="butt"/>
<line x1="608.88" y1="704" x2="608.88" y2="716" stroke="#000" stroke-width="2" stroke-linecap="butt"/>
<line x1="633.06" y1="710" x2="645.06" y2="710" stroke="#000" stroke-width="2" stroke-linecap="butt"/>
<line x1="663.24" y1="710" x2="675.24" y2="710" stroke="#000" stroke-width="2" stroke-linecap="butt"/>
<line x1="669.24" y1="704" x2="669.24" y2="716" stroke="#000" stroke-width="2" stroke-linecap="butt"/>
<line x1="693.43" y1="710" x2="705.43" y2="710" stroke="#000" stroke-width="2" stroke-linecap="butt"/>
<line x1="723.61" y1="710" x2="735.61" y2="710" stroke="#000" stroke-width="2" stroke-linecap="butt"/>
<line x1="729.61" y1="704" x2="729.61" y2="716" stroke="#000" stroke-width="2" stroke-linecap="butt"/>
<line x1="566.8" y1="724.2" x2="623" y2="724.2" stroke="#444" stroke-width="1.5" stroke-linecap="butt"/>
<text x="582.21" y="741.5" font-size="16" font-style="normal" font-weight="normal" fill="#000">WT</text>
<line x1="627.9" y1="724.2" x2="683.7" y2="724.2" stroke="#444" stroke-width="1.5" stroke-linecap="butt"/>
<text x="638.01" y="741.5" font-size="16.6" font-style="italic" font-weight="normal" fill="#000">upl6</text>
<line x1="688.6" y1="724.2" x2="744.7" y2="724.2" stroke="#444" stroke-width="1.5" stroke-linecap="butt"/>
<text x="698.8" y="741.5" font-size="16.6" font-style="italic" font-weight="normal" fill="#000">upl7</text>
<text x="748.35" y="715.6" font-size="16.5" font-style="normal" font-weight="normal" fill="#000">SA</text>
<text transform="translate(25.5 602.75) scale(1.06 1) rotate(-90)" text-anchor="middle" font-size="21">Gene/UBQ5</text>
<rect x="82.41" y="943.65" width="25.5" height="161.15" fill="#000"/>
<rect x="127.12" y="978.08" width="25.5" height="126.72" fill="#000"/>
<rect x="172.39" y="922.44" width="24.4" height="182.36" fill="#808080" stroke="#222" stroke-width="1.1"/>
<rect x="217.11" y="954.02" width="24.4" height="150.78" fill="#808080" stroke="#222" stroke-width="1.1"/>
<rect x="261.83" y="864.18" width="24.4" height="240.62" fill="#dcd7c2" stroke="#222" stroke-width="1.1"/>
<rect x="306.54" y="868.03" width="24.4" height="236.77" fill="#dcd7c2" stroke="#222" stroke-width="1.1"/>
<line x1="95.16" y1="937.85" x2="95.16" y2="949.45" stroke="#000" stroke-width="1.4" stroke-linecap="butt"/>
<line x1="93.46" y1="937.85" x2="96.86" y2="937.85" stroke="#000" stroke-width="1.6" stroke-linecap="butt"/>
<line x1="93.46" y1="949.45" x2="96.86" y2="949.45" stroke="#000" stroke-width="1.6" stroke-linecap="butt"/>
<line x1="139.88" y1="969.43" x2="139.88" y2="986.73" stroke="#000" stroke-width="1.4" stroke-linecap="butt"/>
<line x1="138.18" y1="969.43" x2="141.57" y2="969.43" stroke="#000" stroke-width="1.6" stroke-linecap="butt"/>
<line x1="138.18" y1="986.73" x2="141.57" y2="986.73" stroke="#000" stroke-width="1.6" stroke-linecap="butt"/>
<line x1="184.59" y1="908.77" x2="184.59" y2="935" stroke="#000" stroke-width="1.4" stroke-linecap="butt"/>
<line x1="182.89" y1="908.77" x2="186.29" y2="908.77" stroke="#000" stroke-width="1.6" stroke-linecap="butt"/>
<line x1="182.89" y1="935" x2="186.29" y2="935" stroke="#000" stroke-width="1.6" stroke-linecap="butt"/>
<line x1="229.31" y1="944.71" x2="229.31" y2="962.23" stroke="#000" stroke-width="1.4" stroke-linecap="butt"/>
<line x1="227.61" y1="944.71" x2="231.01" y2="944.71" stroke="#000" stroke-width="1.6" stroke-linecap="butt"/>
<line x1="227.61" y1="962.23" x2="231.01" y2="962.23" stroke="#000" stroke-width="1.6" stroke-linecap="butt"/>
<line x1="274.03" y1="849.29" x2="274.03" y2="877.97" stroke="#000" stroke-width="1.4" stroke-linecap="butt"/>
<line x1="272.33" y1="849.29" x2="275.73" y2="849.29" stroke="#000" stroke-width="1.6" stroke-linecap="butt"/>
<line x1="272.33" y1="877.97" x2="275.73" y2="877.97" stroke="#000" stroke-width="1.6" stroke-linecap="butt"/>
<line x1="318.74" y1="859.67" x2="318.74" y2="875.29" stroke="#000" stroke-width="1.4" stroke-linecap="butt"/>
<line x1="317.04" y1="859.67" x2="320.44" y2="859.67" stroke="#000" stroke-width="1.6" stroke-linecap="butt"/>
<line x1="317.04" y1="875.29" x2="320.44" y2="875.29" stroke="#000" stroke-width="1.6" stroke-linecap="butt"/>
<path d="M72.8 825.8H341.1V1104.8H72.8Z" fill="none" stroke="#111" stroke-width="1.5"/>
<line x1="70.2" y1="1104.8" x2="72.8" y2="1104.8" stroke="#111" stroke-width="1.5" stroke-linecap="butt"/>
<text x="44.36" y="1110.48" font-size="16.5" font-style="normal" font-weight="normal" fill="#000">3.5</text>
<line x1="70.2" y1="1049" x2="72.8" y2="1049" stroke="#111" stroke-width="1.5" stroke-linecap="butt"/>
<text x="44.36" y="1054.68" font-size="16.5" font-style="normal" font-weight="normal" fill="#000">4.5</text>
<line x1="70.2" y1="993.2" x2="72.8" y2="993.2" stroke="#111" stroke-width="1.5" stroke-linecap="butt"/>
<text x="44.36" y="998.88" font-size="16.5" font-style="normal" font-weight="normal" fill="#000">5.5</text>
<line x1="70.2" y1="937.4" x2="72.8" y2="937.4" stroke="#111" stroke-width="1.5" stroke-linecap="butt"/>
<text x="44.36" y="943.08" font-size="16.5" font-style="normal" font-weight="normal" fill="#000">6.5</text>
<line x1="70.2" y1="881.6" x2="72.8" y2="881.6" stroke="#111" stroke-width="1.5" stroke-linecap="butt"/>
<text x="44.36" y="887.28" font-size="16.5" font-style="normal" font-weight="normal" fill="#000">7.5</text>
<line x1="70.2" y1="825.8" x2="72.8" y2="825.8" stroke="#111" stroke-width="1.5" stroke-linecap="butt"/>
<text x="44.36" y="831.48" font-size="16.5" font-style="normal" font-weight="normal" fill="#000">8.5</text>
<line x1="72.8" y1="1104.8" x2="72.8" y2="1107.4" stroke="#111" stroke-width="1.5" stroke-linecap="butt"/>
<line x1="117.52" y1="1104.8" x2="117.52" y2="1107.4" stroke="#111" stroke-width="1.5" stroke-linecap="butt"/>
<line x1="162.23" y1="1104.8" x2="162.23" y2="1107.4" stroke="#111" stroke-width="1.5" stroke-linecap="butt"/>
<line x1="206.95" y1="1104.8" x2="206.95" y2="1107.4" stroke="#111" stroke-width="1.5" stroke-linecap="butt"/>
<line x1="251.67" y1="1104.8" x2="251.67" y2="1107.4" stroke="#111" stroke-width="1.5" stroke-linecap="butt"/>
<line x1="296.38" y1="1104.8" x2="296.38" y2="1107.4" stroke="#111" stroke-width="1.5" stroke-linecap="butt"/>
<line x1="341.1" y1="1104.8" x2="341.1" y2="1107.4" stroke="#111" stroke-width="1.5" stroke-linecap="butt"/>
<path d="M141.05 959.7 L141.65 953.4 L138.75 953.4 L139.35 959.7ZM140.44 960.51 L146.65 959.28 L145.82 956.5 L139.96 958.89ZM140.44 958.89 L134.58 956.5 L133.75 959.28 L139.96 960.51ZM139.5 960.18 L142.13 965.15 L144.53 963.53 L140.9 959.22ZM139.5 959.22 L135.87 963.53 L138.27 965.15 L140.9 960.18Z" fill="#000"/>
<path d="M230.45 939.2 L231.05 932.9 L228.15 932.9 L228.75 939.2ZM229.84 940.01 L236.05 938.78 L235.22 936 L229.36 938.39ZM229.84 938.39 L223.98 936 L223.15 938.78 L229.36 940.01ZM228.9 939.68 L231.53 944.65 L233.93 943.03 L230.3 938.72ZM228.9 938.72 L225.27 943.03 L227.67 944.65 L230.3 939.68Z" fill="#000"/>
<line x1="89.16" y1="1116.3" x2="101.16" y2="1116.3" stroke="#000" stroke-width="2" stroke-linecap="butt"/>
<line x1="133.88" y1="1116.3" x2="145.88" y2="1116.3" stroke="#000" stroke-width="2" stroke-linecap="butt"/>
<line x1="139.88" y1="1110.3" x2="139.88" y2="1122.3" stroke="#000" stroke-width="2" stroke-linecap="butt"/>
<line x1="178.59" y1="1116.3" x2="190.59" y2="1116.3" stroke="#000" stroke-width="2" stroke-linecap="butt"/>
<line x1="223.31" y1="1116.3" x2="235.31" y2="1116.3" stroke="#000" stroke-width="2" stroke-linecap="butt"/>
<line x1="229.31" y1="1110.3" x2="229.31" y2="1122.3" stroke="#000" stroke-width="2" stroke-linecap="butt"/>
<line x1="268.03" y1="1116.3" x2="280.03" y2="1116.3" stroke="#000" stroke-width="2" stroke-linecap="butt"/>
<line x1="312.74" y1="1116.3" x2="324.74" y2="1116.3" stroke="#000" stroke-width="2" stroke-linecap="butt"/>
<line x1="318.74" y1="1110.3" x2="318.74" y2="1122.3" stroke="#000" stroke-width="2" stroke-linecap="butt"/>
<line x1="78.5" y1="1130.1" x2="157.5" y2="1130.1" stroke="#444" stroke-width="1.5" stroke-linecap="butt"/>
<text x="104.26" y="1147.8" font-size="16" font-style="normal" font-weight="normal" fill="#000">WT</text>
<line x1="168.4" y1="1130.1" x2="245.9" y2="1130.1" stroke="#444" stroke-width="1.5" stroke-linecap="butt"/>
<text x="190.62" y="1147.8" font-size="17" font-style="italic" font-weight="normal" fill="#000">upl6</text>
<line x1="256" y1="1130.1" x2="334.4" y2="1130.1" stroke="#444" stroke-width="1.5" stroke-linecap="butt"/>
<text x="276.51" y="1147.8" font-size="17" font-style="italic" font-weight="normal" fill="#000">npr1</text>
<text x="189.86" y="1163.6" font-size="17" font-style="italic" font-weight="normal" fill="#000">upl7</text>
<text x="342.55" y="1121.8" font-size="16.5" font-style="normal" font-weight="normal" fill="#000">SA</text>
<path d="M86.3 924.6H150.5M117.9 924.6V887.3H206.6V902.3M174.6 902.3H239.3" fill="none" stroke="#000" stroke-width="1.5"/>
<text x="126.9" y="882.3" font-size="12.6">ns (<tspan font-style="italic">p</tspan> = 0.57)</text>
<text transform="translate(33 962) rotate(-90)" text-anchor="middle" font-size="21">log<tspan font-size="12" dy="7">10</tspan><tspan dy="-7"> cfu/leaf disc</tspan></text>
<rect x="451.31" y="1049.14" width="17.8" height="54.66" fill="#000"/>
<rect x="482.54" y="873.36" width="17.8" height="230.44" fill="#000"/>
<rect x="514.31" y="1080.6" width="16.7" height="23.2" fill="#808080" stroke="#222" stroke-width="1.1"/>
<rect x="545.54" y="936.07" width="16.7" height="167.73" fill="#808080" stroke="#222" stroke-width="1.1"/>
<line x1="460.21" y1="1044.98" x2="460.21" y2="1053.31" stroke="#000" stroke-width="1.1" stroke-linecap="butt"/>
<line x1="458.46" y1="1044.98" x2="461.96" y2="1044.98" stroke="#000" stroke-width="1.2" stroke-linecap="butt"/>
<line x1="458.46" y1="1053.31" x2="461.96" y2="1053.31" stroke="#000" stroke-width="1.2" stroke-linecap="butt"/>
<line x1="491.44" y1="864.54" x2="491.44" y2="882.19" stroke="#000" stroke-width="1.1" stroke-linecap="butt"/>
<line x1="489.69" y1="864.54" x2="493.19" y2="864.54" stroke="#000" stroke-width="1.2" stroke-linecap="butt"/>
<line x1="489.69" y1="882.19" x2="493.19" y2="882.19" stroke="#000" stroke-width="1.2" stroke-linecap="butt"/>
<line x1="522.66" y1="1078.87" x2="522.66" y2="1081.23" stroke="#000" stroke-width="1.1" stroke-linecap="butt"/>
<line x1="520.91" y1="1078.87" x2="524.41" y2="1078.87" stroke="#000" stroke-width="1.2" stroke-linecap="butt"/>
<line x1="520.91" y1="1081.23" x2="524.41" y2="1081.23" stroke="#000" stroke-width="1.2" stroke-linecap="butt"/>
<line x1="553.89" y1="926.49" x2="553.89" y2="944.55" stroke="#000" stroke-width="1.1" stroke-linecap="butt"/>
<line x1="552.14" y1="926.49" x2="555.64" y2="926.49" stroke="#000" stroke-width="1.2" stroke-linecap="butt"/>
<line x1="552.14" y1="944.55" x2="555.64" y2="944.55" stroke="#000" stroke-width="1.2" stroke-linecap="butt"/>
<path d="M444.6 826H569.5V1103.8H444.6Z" fill="none" stroke="#111" stroke-width="1.3"/>
<line x1="442" y1="1103.8" x2="444.6" y2="1103.8" stroke="#111" stroke-width="1.3" stroke-linecap="butt"/>
<text x="429.77" y="1109.48" font-size="16.5" font-style="normal" font-weight="normal" fill="#000">0</text>
<line x1="442" y1="1034.35" x2="444.6" y2="1034.35" stroke="#111" stroke-width="1.3" stroke-linecap="butt"/>
<text x="429.93" y="1040.03" font-size="16.5" font-style="normal" font-weight="normal" fill="#000">1</text>
<line x1="442" y1="964.9" x2="444.6" y2="964.9" stroke="#111" stroke-width="1.3" stroke-linecap="butt"/>
<text x="429.95" y="970.58" font-size="16.5" font-style="normal" font-weight="normal" fill="#000">2</text>
<line x1="442" y1="895.45" x2="444.6" y2="895.45" stroke="#111" stroke-width="1.3" stroke-linecap="butt"/>
<text x="429.85" y="901.13" font-size="16.5" font-style="normal" font-weight="normal" fill="#000">3</text>
<line x1="442" y1="826" x2="444.6" y2="826" stroke="#111" stroke-width="1.3" stroke-linecap="butt"/>
<text x="429.61" y="831.68" font-size="16.5" font-style="normal" font-weight="normal" fill="#000">4</text>
<line x1="444.6" y1="1103.8" x2="444.6" y2="1106.4" stroke="#111" stroke-width="1.3" stroke-linecap="butt"/>
<line x1="475.83" y1="1103.8" x2="475.83" y2="1106.4" stroke="#111" stroke-width="1.3" stroke-linecap="butt"/>
<line x1="507.05" y1="1103.8" x2="507.05" y2="1106.4" stroke="#111" stroke-width="1.3" stroke-linecap="butt"/>
<line x1="538.27" y1="1103.8" x2="538.27" y2="1106.4" stroke="#111" stroke-width="1.3" stroke-linecap="butt"/>
<line x1="569.5" y1="1103.8" x2="569.5" y2="1106.4" stroke="#111" stroke-width="1.3" stroke-linecap="butt"/>
<text x="486.27" y="819.3" font-size="20.5" font-style="italic" font-weight="normal" fill="#000">PR-1</text>
<rect x="626.25" y="1019.24" width="17.8" height="84.46" fill="#000"/>
<rect x="657.35" y="865.34" width="17.8" height="238.36" fill="#000"/>
<rect x="689" y="1080.59" width="16.7" height="23.11" fill="#808080" stroke="#222" stroke-width="1.1"/>
<rect x="720.1" y="975.68" width="16.7" height="128.02" fill="#808080" stroke="#222" stroke-width="1.1"/>
<line x1="635.15" y1="1012.97" x2="635.15" y2="1025.5" stroke="#000" stroke-width="1.1" stroke-linecap="butt"/>
<line x1="633.4" y1="1012.97" x2="636.9" y2="1012.97" stroke="#000" stroke-width="1.2" stroke-linecap="butt"/>
<line x1="633.4" y1="1025.5" x2="636.9" y2="1025.5" stroke="#000" stroke-width="1.2" stroke-linecap="butt"/>
<line x1="666.25" y1="856.64" x2="666.25" y2="874.03" stroke="#000" stroke-width="1.1" stroke-linecap="butt"/>
<line x1="664.5" y1="856.64" x2="668" y2="856.64" stroke="#000" stroke-width="1.2" stroke-linecap="butt"/>
<line x1="664.5" y1="874.03" x2="668" y2="874.03" stroke="#000" stroke-width="1.2" stroke-linecap="butt"/>
<line x1="697.35" y1="1078.24" x2="697.35" y2="1081.85" stroke="#000" stroke-width="1.1" stroke-linecap="butt"/>
<line x1="695.6" y1="1078.24" x2="699.1" y2="1078.24" stroke="#000" stroke-width="1.2" stroke-linecap="butt"/>
<line x1="695.6" y1="1081.85" x2="699.1" y2="1081.85" stroke="#000" stroke-width="1.2" stroke-linecap="butt"/>
<line x1="728.45" y1="969" x2="728.45" y2="981.25" stroke="#000" stroke-width="1.1" stroke-linecap="butt"/>
<line x1="726.7" y1="969" x2="730.2" y2="969" stroke="#000" stroke-width="1.2" stroke-linecap="butt"/>
<line x1="726.7" y1="981.25" x2="730.2" y2="981.25" stroke="#000" stroke-width="1.2" stroke-linecap="butt"/>
<path d="M619.6 825.4H744V1103.7H619.6Z" fill="none" stroke="#111" stroke-width="1.3"/>
<line x1="617" y1="1103.7" x2="619.6" y2="1103.7" stroke="#111" stroke-width="1.3" stroke-linecap="butt"/>
<text x="591.11" y="1109.38" font-size="16.5" font-style="normal" font-weight="normal" fill="#000">0.0</text>
<line x1="617" y1="1034.12" x2="619.6" y2="1034.12" stroke="#111" stroke-width="1.3" stroke-linecap="butt"/>
<text x="591.16" y="1039.8" font-size="16.5" font-style="normal" font-weight="normal" fill="#000">0.5</text>
<line x1="617" y1="964.55" x2="619.6" y2="964.55" stroke="#111" stroke-width="1.3" stroke-linecap="butt"/>
<text x="591.11" y="970.23" font-size="16.5" font-style="normal" font-weight="normal" fill="#000">1.0</text>
<line x1="617" y1="894.98" x2="619.6" y2="894.98" stroke="#111" stroke-width="1.3" stroke-linecap="butt"/>
<text x="591.16" y="900.65" font-size="16.5" font-style="normal" font-weight="normal" fill="#000">1.5</text>
<line x1="617" y1="825.4" x2="619.6" y2="825.4" stroke="#111" stroke-width="1.3" stroke-linecap="butt"/>
<text x="591.11" y="831.08" font-size="16.5" font-style="normal" font-weight="normal" fill="#000">2.0</text>
<line x1="619.6" y1="1103.7" x2="619.6" y2="1106.3" stroke="#111" stroke-width="1.3" stroke-linecap="butt"/>
<line x1="650.7" y1="1103.7" x2="650.7" y2="1106.3" stroke="#111" stroke-width="1.3" stroke-linecap="butt"/>
<line x1="681.8" y1="1103.7" x2="681.8" y2="1106.3" stroke="#111" stroke-width="1.3" stroke-linecap="butt"/>
<line x1="712.9" y1="1103.7" x2="712.9" y2="1106.3" stroke="#111" stroke-width="1.3" stroke-linecap="butt"/>
<line x1="744" y1="1103.7" x2="744" y2="1106.3" stroke="#111" stroke-width="1.3" stroke-linecap="butt"/>
<text x="661.07" y="820.5" font-size="20.5" font-style="italic" font-weight="normal" fill="#000">PR-2</text>
<line x1="454.21" y1="1116.8" x2="466.21" y2="1116.8" stroke="#000" stroke-width="2" stroke-linecap="butt"/>
<line x1="485.44" y1="1116.8" x2="497.44" y2="1116.8" stroke="#000" stroke-width="2" stroke-linecap="butt"/>
<line x1="491.44" y1="1110.8" x2="491.44" y2="1122.8" stroke="#000" stroke-width="2" stroke-linecap="butt"/>
<line x1="516.66" y1="1116.8" x2="528.66" y2="1116.8" stroke="#000" stroke-width="2" stroke-linecap="butt"/>
<line x1="547.89" y1="1116.8" x2="559.89" y2="1116.8" stroke="#000" stroke-width="2" stroke-linecap="butt"/>
<line x1="553.89" y1="1110.8" x2="553.89" y2="1122.8" stroke="#000" stroke-width="2" stroke-linecap="butt"/>
<line x1="629.15" y1="1116.8" x2="641.15" y2="1116.8" stroke="#000" stroke-width="2" stroke-linecap="butt"/>
<line x1="660.25" y1="1116.8" x2="672.25" y2="1116.8" stroke="#000" stroke-width="2" stroke-linecap="butt"/>
<line x1="666.25" y1="1110.8" x2="666.25" y2="1122.8" stroke="#000" stroke-width="2" stroke-linecap="butt"/>
<line x1="691.35" y1="1116.8" x2="703.35" y2="1116.8" stroke="#000" stroke-width="2" stroke-linecap="butt"/>
<line x1="722.45" y1="1116.8" x2="734.45" y2="1116.8" stroke="#000" stroke-width="2" stroke-linecap="butt"/>
<line x1="728.45" y1="1110.8" x2="728.45" y2="1122.8" stroke="#000" stroke-width="2" stroke-linecap="butt"/>
<line x1="448.6" y1="1130.1" x2="504.4" y2="1130.1" stroke="#444" stroke-width="1.5" stroke-linecap="butt"/>
<text x="464.41" y="1148.3" font-size="16" font-style="normal" font-weight="normal" fill="#000">WT</text>
<line x1="509.3" y1="1130.1" x2="564.6" y2="1130.1" stroke="#444" stroke-width="1.5" stroke-linecap="butt"/>
<text x="519.36" y="1148.3" font-size="16.6" font-style="italic" font-weight="normal" fill="#000">upl6</text>
<line x1="623.3" y1="1130.1" x2="679.1" y2="1130.1" stroke="#444" stroke-width="1.5" stroke-linecap="butt"/>
<text x="638.71" y="1148.3" font-size="16" font-style="normal" font-weight="normal" fill="#000">WT</text>
<line x1="684" y1="1130.1" x2="739.3" y2="1130.1" stroke="#444" stroke-width="1.5" stroke-linecap="butt"/>
<text x="694.61" y="1148.3" font-size="16.6" font-style="italic" font-weight="normal" fill="#000">upl6</text>
<text x="518.9" y="1164.3" font-size="16.6" font-style="italic" font-weight="normal" fill="#000">upl7</text>
<text x="694.15" y="1164.3" font-size="16.6" font-style="italic" font-weight="normal" fill="#000">upl7</text>
<text x="747.67" y="1122.3" font-size="16" font-style="normal" font-weight="normal" fill="#000">SA</text>
<text transform="translate(418.4 962.9) scale(1.08 1) rotate(-90)" text-anchor="middle" font-size="20.8">Gene/UBQ5</text>
</svg>
</body></html>
